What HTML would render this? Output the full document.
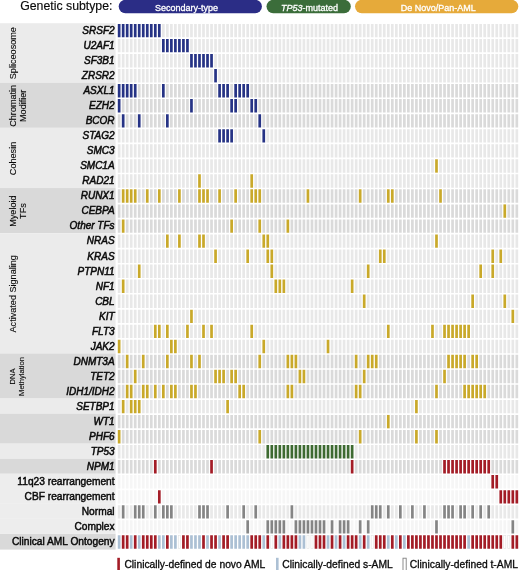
<!DOCTYPE html>
<html><head><meta charset="utf-8"><title>Genetic subtype oncoprint</title>
<style>
html,body{margin:0;padding:0;background:#ffffff;}
body{width:520px;height:570px;overflow:hidden;}
svg{display:block;will-change:transform;font-variant-ligatures:none;font-family:"Liberation Sans",sans-serif;fill:#1a1a1a;}
svg text{fill:#0a0a0a;}

svg text.pt{fill:#ffffff;font-size:9px;stroke:#ffffff;stroke-width:0.3px;}
svg text.lg{font-size:10.3px;stroke:#0a0a0a;stroke-width:0.3px;}
svg text.hd{stroke:#0a0a0a;stroke-width:0.15px;}
svg text.ct{stroke:#0a0a0a;stroke-width:0.12px;}
</style></head><body>
<svg width="520" height="570" viewBox="0 0 520 570">
<rect x="0" y="23.2" width="115.6" height="59.52" fill="#ebebeb"/>
<rect x="0" y="82.76" width="115.6" height="45.08" fill="#d9d9d9"/>
<rect x="0" y="127.88" width="115.6" height="60.12" fill="#ebebeb"/>
<rect x="0" y="188.04" width="115.6" height="45.08" fill="#d9d9d9"/>
<rect x="0" y="233.16" width="115.6" height="120.28" fill="#ebebeb"/>
<rect x="0" y="353.48" width="115.6" height="45.08" fill="#d9d9d9"/>
<rect x="0" y="398.6" width="115.6" height="15" fill="#ebebeb"/>
<rect x="0" y="413.64" width="115.6" height="30.04" fill="#d9d9d9"/>
<rect x="0" y="443.72" width="115.6" height="15" fill="#ebebeb"/>
<rect x="0" y="458.76" width="115.6" height="15" fill="#d9d9d9"/>
<rect x="0" y="473.8" width="115.6" height="30.04" fill="#ededed"/>
<rect x="0" y="503.88" width="115.6" height="15" fill="#ededed"/>
<rect x="0" y="518.92" width="115.6" height="15" fill="#ededed"/>
<rect x="0" y="533.96" width="115.6" height="15.64" fill="#d9d9d9"/>
<path fill="#e8e8e8" d="M161.99 23.9h2.7v13.4h-2.7zM166 23.9h2.7v13.4h-2.7zM170.02 23.9h2.7v13.4h-2.7zM174.04 23.9h2.7v13.4h-2.7zM178.06 23.9h2.7v13.4h-2.7zM182.07 23.9h2.7v13.4h-2.7zM186.09 23.9h2.7v13.4h-2.7zM190.11 23.9h2.7v13.4h-2.7zM194.12 23.9h2.7v13.4h-2.7zM198.14 23.9h2.7v13.4h-2.7zM202.16 23.9h2.7v13.4h-2.7zM206.17 23.9h2.7v13.4h-2.7zM210.19 23.9h2.7v13.4h-2.7zM214.21 23.9h2.7v13.4h-2.7zM218.23 23.9h2.7v13.4h-2.7zM222.24 23.9h2.7v13.4h-2.7zM226.26 23.9h2.7v13.4h-2.7zM230.28 23.9h2.7v13.4h-2.7zM234.29 23.9h2.7v13.4h-2.7zM238.31 23.9h2.7v13.4h-2.7zM242.33 23.9h2.7v13.4h-2.7zM246.34 23.9h2.7v13.4h-2.7zM250.36 23.9h2.7v13.4h-2.7zM254.38 23.9h2.7v13.4h-2.7zM258.39 23.9h2.7v13.4h-2.7zM262.41 23.9h2.7v13.4h-2.7zM266.43 23.9h2.7v13.4h-2.7zM270.45 23.9h2.7v13.4h-2.7zM274.46 23.9h2.7v13.4h-2.7zM278.48 23.9h2.7v13.4h-2.7zM282.5 23.9h2.7v13.4h-2.7zM286.51 23.9h2.7v13.4h-2.7zM290.53 23.9h2.7v13.4h-2.7zM294.55 23.9h2.7v13.4h-2.7zM298.56 23.9h2.7v13.4h-2.7zM302.58 23.9h2.7v13.4h-2.7zM306.6 23.9h2.7v13.4h-2.7zM310.62 23.9h2.7v13.4h-2.7zM314.63 23.9h2.7v13.4h-2.7zM318.65 23.9h2.7v13.4h-2.7zM322.67 23.9h2.7v13.4h-2.7zM326.68 23.9h2.7v13.4h-2.7zM330.7 23.9h2.7v13.4h-2.7zM334.72 23.9h2.7v13.4h-2.7zM338.74 23.9h2.7v13.4h-2.7zM342.75 23.9h2.7v13.4h-2.7zM346.77 23.9h2.7v13.4h-2.7zM350.79 23.9h2.7v13.4h-2.7zM354.8 23.9h2.7v13.4h-2.7zM358.82 23.9h2.7v13.4h-2.7zM362.84 23.9h2.7v13.4h-2.7zM366.85 23.9h2.7v13.4h-2.7zM370.87 23.9h2.7v13.4h-2.7zM374.89 23.9h2.7v13.4h-2.7zM378.91 23.9h2.7v13.4h-2.7zM382.92 23.9h2.7v13.4h-2.7zM386.94 23.9h2.7v13.4h-2.7zM390.96 23.9h2.7v13.4h-2.7zM394.97 23.9h2.7v13.4h-2.7zM398.99 23.9h2.7v13.4h-2.7zM403.01 23.9h2.7v13.4h-2.7zM407.02 23.9h2.7v13.4h-2.7zM411.04 23.9h2.7v13.4h-2.7zM415.06 23.9h2.7v13.4h-2.7zM419.08 23.9h2.7v13.4h-2.7zM423.09 23.9h2.7v13.4h-2.7zM427.11 23.9h2.7v13.4h-2.7zM431.13 23.9h2.7v13.4h-2.7zM435.14 23.9h2.7v13.4h-2.7zM439.16 23.9h2.7v13.4h-2.7zM443.18 23.9h2.7v13.4h-2.7zM447.19 23.9h2.7v13.4h-2.7zM451.21 23.9h2.7v13.4h-2.7zM455.23 23.9h2.7v13.4h-2.7zM459.25 23.9h2.7v13.4h-2.7zM463.26 23.9h2.7v13.4h-2.7zM467.28 23.9h2.7v13.4h-2.7zM471.3 23.9h2.7v13.4h-2.7zM475.31 23.9h2.7v13.4h-2.7zM479.33 23.9h2.7v13.4h-2.7zM483.35 23.9h2.7v13.4h-2.7zM487.36 23.9h2.7v13.4h-2.7zM491.38 23.9h2.7v13.4h-2.7zM495.4 23.9h2.7v13.4h-2.7zM499.42 23.9h2.7v13.4h-2.7zM503.43 23.9h2.7v13.4h-2.7zM507.45 23.9h2.7v13.4h-2.7zM511.47 23.9h2.7v13.4h-2.7zM515.48 23.9h2.7v13.4h-2.7z"/>
<path fill="#263385" d="M117.8 23.9h2.7v13.4h-2.7zM121.82 23.9h2.7v13.4h-2.7zM125.83 23.9h2.7v13.4h-2.7zM129.85 23.9h2.7v13.4h-2.7zM133.87 23.9h2.7v13.4h-2.7zM137.88 23.9h2.7v13.4h-2.7zM141.9 23.9h2.7v13.4h-2.7zM145.92 23.9h2.7v13.4h-2.7zM149.94 23.9h2.7v13.4h-2.7zM153.95 23.9h2.7v13.4h-2.7zM157.97 23.9h2.7v13.4h-2.7z"/>
<path fill="#e8e8e8" d="M117.8 38.94h2.7v13.4h-2.7zM121.82 38.94h2.7v13.4h-2.7zM125.83 38.94h2.7v13.4h-2.7zM129.85 38.94h2.7v13.4h-2.7zM133.87 38.94h2.7v13.4h-2.7zM137.88 38.94h2.7v13.4h-2.7zM141.9 38.94h2.7v13.4h-2.7zM145.92 38.94h2.7v13.4h-2.7zM149.94 38.94h2.7v13.4h-2.7zM153.95 38.94h2.7v13.4h-2.7zM157.97 38.94h2.7v13.4h-2.7zM190.11 38.94h2.7v13.4h-2.7zM194.12 38.94h2.7v13.4h-2.7zM198.14 38.94h2.7v13.4h-2.7zM202.16 38.94h2.7v13.4h-2.7zM206.17 38.94h2.7v13.4h-2.7zM210.19 38.94h2.7v13.4h-2.7zM214.21 38.94h2.7v13.4h-2.7zM218.23 38.94h2.7v13.4h-2.7zM222.24 38.94h2.7v13.4h-2.7zM226.26 38.94h2.7v13.4h-2.7zM230.28 38.94h2.7v13.4h-2.7zM234.29 38.94h2.7v13.4h-2.7zM238.31 38.94h2.7v13.4h-2.7zM242.33 38.94h2.7v13.4h-2.7zM246.34 38.94h2.7v13.4h-2.7zM250.36 38.94h2.7v13.4h-2.7zM254.38 38.94h2.7v13.4h-2.7zM258.39 38.94h2.7v13.4h-2.7zM262.41 38.94h2.7v13.4h-2.7zM266.43 38.94h2.7v13.4h-2.7zM270.45 38.94h2.7v13.4h-2.7zM274.46 38.94h2.7v13.4h-2.7zM278.48 38.94h2.7v13.4h-2.7zM282.5 38.94h2.7v13.4h-2.7zM286.51 38.94h2.7v13.4h-2.7zM290.53 38.94h2.7v13.4h-2.7zM294.55 38.94h2.7v13.4h-2.7zM298.56 38.94h2.7v13.4h-2.7zM302.58 38.94h2.7v13.4h-2.7zM306.6 38.94h2.7v13.4h-2.7zM310.62 38.94h2.7v13.4h-2.7zM314.63 38.94h2.7v13.4h-2.7zM318.65 38.94h2.7v13.4h-2.7zM322.67 38.94h2.7v13.4h-2.7zM326.68 38.94h2.7v13.4h-2.7zM330.7 38.94h2.7v13.4h-2.7zM334.72 38.94h2.7v13.4h-2.7zM338.74 38.94h2.7v13.4h-2.7zM342.75 38.94h2.7v13.4h-2.7zM346.77 38.94h2.7v13.4h-2.7zM350.79 38.94h2.7v13.4h-2.7zM354.8 38.94h2.7v13.4h-2.7zM358.82 38.94h2.7v13.4h-2.7zM362.84 38.94h2.7v13.4h-2.7zM366.85 38.94h2.7v13.4h-2.7zM370.87 38.94h2.7v13.4h-2.7zM374.89 38.94h2.7v13.4h-2.7zM378.91 38.94h2.7v13.4h-2.7zM382.92 38.94h2.7v13.4h-2.7zM386.94 38.94h2.7v13.4h-2.7zM390.96 38.94h2.7v13.4h-2.7zM394.97 38.94h2.7v13.4h-2.7zM398.99 38.94h2.7v13.4h-2.7zM403.01 38.94h2.7v13.4h-2.7zM407.02 38.94h2.7v13.4h-2.7zM411.04 38.94h2.7v13.4h-2.7zM415.06 38.94h2.7v13.4h-2.7zM419.08 38.94h2.7v13.4h-2.7zM423.09 38.94h2.7v13.4h-2.7zM427.11 38.94h2.7v13.4h-2.7zM431.13 38.94h2.7v13.4h-2.7zM435.14 38.94h2.7v13.4h-2.7zM439.16 38.94h2.7v13.4h-2.7zM443.18 38.94h2.7v13.4h-2.7zM447.19 38.94h2.7v13.4h-2.7zM451.21 38.94h2.7v13.4h-2.7zM455.23 38.94h2.7v13.4h-2.7zM459.25 38.94h2.7v13.4h-2.7zM463.26 38.94h2.7v13.4h-2.7zM467.28 38.94h2.7v13.4h-2.7zM471.3 38.94h2.7v13.4h-2.7zM475.31 38.94h2.7v13.4h-2.7zM479.33 38.94h2.7v13.4h-2.7zM483.35 38.94h2.7v13.4h-2.7zM487.36 38.94h2.7v13.4h-2.7zM491.38 38.94h2.7v13.4h-2.7zM495.4 38.94h2.7v13.4h-2.7zM499.42 38.94h2.7v13.4h-2.7zM503.43 38.94h2.7v13.4h-2.7zM507.45 38.94h2.7v13.4h-2.7zM511.47 38.94h2.7v13.4h-2.7zM515.48 38.94h2.7v13.4h-2.7z"/>
<path fill="#263385" d="M161.99 38.94h2.7v13.4h-2.7zM166 38.94h2.7v13.4h-2.7zM170.02 38.94h2.7v13.4h-2.7zM174.04 38.94h2.7v13.4h-2.7zM178.06 38.94h2.7v13.4h-2.7zM182.07 38.94h2.7v13.4h-2.7zM186.09 38.94h2.7v13.4h-2.7z"/>
<path fill="#e8e8e8" d="M117.8 53.98h2.7v13.4h-2.7zM121.82 53.98h2.7v13.4h-2.7zM125.83 53.98h2.7v13.4h-2.7zM129.85 53.98h2.7v13.4h-2.7zM133.87 53.98h2.7v13.4h-2.7zM137.88 53.98h2.7v13.4h-2.7zM141.9 53.98h2.7v13.4h-2.7zM145.92 53.98h2.7v13.4h-2.7zM149.94 53.98h2.7v13.4h-2.7zM153.95 53.98h2.7v13.4h-2.7zM157.97 53.98h2.7v13.4h-2.7zM161.99 53.98h2.7v13.4h-2.7zM166 53.98h2.7v13.4h-2.7zM170.02 53.98h2.7v13.4h-2.7zM174.04 53.98h2.7v13.4h-2.7zM178.06 53.98h2.7v13.4h-2.7zM182.07 53.98h2.7v13.4h-2.7zM186.09 53.98h2.7v13.4h-2.7zM214.21 53.98h2.7v13.4h-2.7zM218.23 53.98h2.7v13.4h-2.7zM222.24 53.98h2.7v13.4h-2.7zM226.26 53.98h2.7v13.4h-2.7zM230.28 53.98h2.7v13.4h-2.7zM234.29 53.98h2.7v13.4h-2.7zM238.31 53.98h2.7v13.4h-2.7zM242.33 53.98h2.7v13.4h-2.7zM246.34 53.98h2.7v13.4h-2.7zM250.36 53.98h2.7v13.4h-2.7zM254.38 53.98h2.7v13.4h-2.7zM258.39 53.98h2.7v13.4h-2.7zM262.41 53.98h2.7v13.4h-2.7zM266.43 53.98h2.7v13.4h-2.7zM270.45 53.98h2.7v13.4h-2.7zM274.46 53.98h2.7v13.4h-2.7zM278.48 53.98h2.7v13.4h-2.7zM282.5 53.98h2.7v13.4h-2.7zM286.51 53.98h2.7v13.4h-2.7zM290.53 53.98h2.7v13.4h-2.7zM294.55 53.98h2.7v13.4h-2.7zM298.56 53.98h2.7v13.4h-2.7zM302.58 53.98h2.7v13.4h-2.7zM306.6 53.98h2.7v13.4h-2.7zM310.62 53.98h2.7v13.4h-2.7zM314.63 53.98h2.7v13.4h-2.7zM318.65 53.98h2.7v13.4h-2.7zM322.67 53.98h2.7v13.4h-2.7zM326.68 53.98h2.7v13.4h-2.7zM330.7 53.98h2.7v13.4h-2.7zM334.72 53.98h2.7v13.4h-2.7zM338.74 53.98h2.7v13.4h-2.7zM342.75 53.98h2.7v13.4h-2.7zM346.77 53.98h2.7v13.4h-2.7zM350.79 53.98h2.7v13.4h-2.7zM354.8 53.98h2.7v13.4h-2.7zM358.82 53.98h2.7v13.4h-2.7zM362.84 53.98h2.7v13.4h-2.7zM366.85 53.98h2.7v13.4h-2.7zM370.87 53.98h2.7v13.4h-2.7zM374.89 53.98h2.7v13.4h-2.7zM378.91 53.98h2.7v13.4h-2.7zM382.92 53.98h2.7v13.4h-2.7zM386.94 53.98h2.7v13.4h-2.7zM390.96 53.98h2.7v13.4h-2.7zM394.97 53.98h2.7v13.4h-2.7zM398.99 53.98h2.7v13.4h-2.7zM403.01 53.98h2.7v13.4h-2.7zM407.02 53.98h2.7v13.4h-2.7zM411.04 53.98h2.7v13.4h-2.7zM415.06 53.98h2.7v13.4h-2.7zM419.08 53.98h2.7v13.4h-2.7zM423.09 53.98h2.7v13.4h-2.7zM427.11 53.98h2.7v13.4h-2.7zM431.13 53.98h2.7v13.4h-2.7zM435.14 53.98h2.7v13.4h-2.7zM439.16 53.98h2.7v13.4h-2.7zM443.18 53.98h2.7v13.4h-2.7zM447.19 53.98h2.7v13.4h-2.7zM451.21 53.98h2.7v13.4h-2.7zM455.23 53.98h2.7v13.4h-2.7zM459.25 53.98h2.7v13.4h-2.7zM463.26 53.98h2.7v13.4h-2.7zM467.28 53.98h2.7v13.4h-2.7zM471.3 53.98h2.7v13.4h-2.7zM475.31 53.98h2.7v13.4h-2.7zM479.33 53.98h2.7v13.4h-2.7zM483.35 53.98h2.7v13.4h-2.7zM487.36 53.98h2.7v13.4h-2.7zM491.38 53.98h2.7v13.4h-2.7zM495.4 53.98h2.7v13.4h-2.7zM499.42 53.98h2.7v13.4h-2.7zM503.43 53.98h2.7v13.4h-2.7zM507.45 53.98h2.7v13.4h-2.7zM511.47 53.98h2.7v13.4h-2.7zM515.48 53.98h2.7v13.4h-2.7z"/>
<path fill="#263385" d="M190.11 53.98h2.7v13.4h-2.7zM194.12 53.98h2.7v13.4h-2.7zM198.14 53.98h2.7v13.4h-2.7zM202.16 53.98h2.7v13.4h-2.7zM206.17 53.98h2.7v13.4h-2.7zM210.19 53.98h2.7v13.4h-2.7z"/>
<path fill="#e8e8e8" d="M117.8 69.02h2.7v13.4h-2.7zM121.82 69.02h2.7v13.4h-2.7zM125.83 69.02h2.7v13.4h-2.7zM129.85 69.02h2.7v13.4h-2.7zM133.87 69.02h2.7v13.4h-2.7zM137.88 69.02h2.7v13.4h-2.7zM141.9 69.02h2.7v13.4h-2.7zM145.92 69.02h2.7v13.4h-2.7zM149.94 69.02h2.7v13.4h-2.7zM153.95 69.02h2.7v13.4h-2.7zM157.97 69.02h2.7v13.4h-2.7zM161.99 69.02h2.7v13.4h-2.7zM166 69.02h2.7v13.4h-2.7zM170.02 69.02h2.7v13.4h-2.7zM174.04 69.02h2.7v13.4h-2.7zM178.06 69.02h2.7v13.4h-2.7zM182.07 69.02h2.7v13.4h-2.7zM186.09 69.02h2.7v13.4h-2.7zM190.11 69.02h2.7v13.4h-2.7zM194.12 69.02h2.7v13.4h-2.7zM198.14 69.02h2.7v13.4h-2.7zM202.16 69.02h2.7v13.4h-2.7zM206.17 69.02h2.7v13.4h-2.7zM210.19 69.02h2.7v13.4h-2.7zM218.23 69.02h2.7v13.4h-2.7zM222.24 69.02h2.7v13.4h-2.7zM226.26 69.02h2.7v13.4h-2.7zM230.28 69.02h2.7v13.4h-2.7zM234.29 69.02h2.7v13.4h-2.7zM238.31 69.02h2.7v13.4h-2.7zM242.33 69.02h2.7v13.4h-2.7zM246.34 69.02h2.7v13.4h-2.7zM250.36 69.02h2.7v13.4h-2.7zM254.38 69.02h2.7v13.4h-2.7zM258.39 69.02h2.7v13.4h-2.7zM262.41 69.02h2.7v13.4h-2.7zM266.43 69.02h2.7v13.4h-2.7zM270.45 69.02h2.7v13.4h-2.7zM274.46 69.02h2.7v13.4h-2.7zM278.48 69.02h2.7v13.4h-2.7zM282.5 69.02h2.7v13.4h-2.7zM286.51 69.02h2.7v13.4h-2.7zM290.53 69.02h2.7v13.4h-2.7zM294.55 69.02h2.7v13.4h-2.7zM298.56 69.02h2.7v13.4h-2.7zM302.58 69.02h2.7v13.4h-2.7zM306.6 69.02h2.7v13.4h-2.7zM310.62 69.02h2.7v13.4h-2.7zM314.63 69.02h2.7v13.4h-2.7zM318.65 69.02h2.7v13.4h-2.7zM322.67 69.02h2.7v13.4h-2.7zM326.68 69.02h2.7v13.4h-2.7zM330.7 69.02h2.7v13.4h-2.7zM334.72 69.02h2.7v13.4h-2.7zM338.74 69.02h2.7v13.4h-2.7zM342.75 69.02h2.7v13.4h-2.7zM346.77 69.02h2.7v13.4h-2.7zM350.79 69.02h2.7v13.4h-2.7zM354.8 69.02h2.7v13.4h-2.7zM358.82 69.02h2.7v13.4h-2.7zM362.84 69.02h2.7v13.4h-2.7zM366.85 69.02h2.7v13.4h-2.7zM370.87 69.02h2.7v13.4h-2.7zM374.89 69.02h2.7v13.4h-2.7zM378.91 69.02h2.7v13.4h-2.7zM382.92 69.02h2.7v13.4h-2.7zM386.94 69.02h2.7v13.4h-2.7zM390.96 69.02h2.7v13.4h-2.7zM394.97 69.02h2.7v13.4h-2.7zM398.99 69.02h2.7v13.4h-2.7zM403.01 69.02h2.7v13.4h-2.7zM407.02 69.02h2.7v13.4h-2.7zM411.04 69.02h2.7v13.4h-2.7zM415.06 69.02h2.7v13.4h-2.7zM419.08 69.02h2.7v13.4h-2.7zM423.09 69.02h2.7v13.4h-2.7zM427.11 69.02h2.7v13.4h-2.7zM431.13 69.02h2.7v13.4h-2.7zM435.14 69.02h2.7v13.4h-2.7zM439.16 69.02h2.7v13.4h-2.7zM443.18 69.02h2.7v13.4h-2.7zM447.19 69.02h2.7v13.4h-2.7zM451.21 69.02h2.7v13.4h-2.7zM455.23 69.02h2.7v13.4h-2.7zM459.25 69.02h2.7v13.4h-2.7zM463.26 69.02h2.7v13.4h-2.7zM467.28 69.02h2.7v13.4h-2.7zM471.3 69.02h2.7v13.4h-2.7zM475.31 69.02h2.7v13.4h-2.7zM479.33 69.02h2.7v13.4h-2.7zM483.35 69.02h2.7v13.4h-2.7zM487.36 69.02h2.7v13.4h-2.7zM491.38 69.02h2.7v13.4h-2.7zM495.4 69.02h2.7v13.4h-2.7zM499.42 69.02h2.7v13.4h-2.7zM503.43 69.02h2.7v13.4h-2.7zM507.45 69.02h2.7v13.4h-2.7zM511.47 69.02h2.7v13.4h-2.7zM515.48 69.02h2.7v13.4h-2.7z"/>
<path fill="#263385" d="M214.21 69.02h2.7v13.4h-2.7z"/>
<path fill="#dadada" d="M137.88 84.06h2.7v13.4h-2.7zM141.9 84.06h2.7v13.4h-2.7zM145.92 84.06h2.7v13.4h-2.7zM149.94 84.06h2.7v13.4h-2.7zM153.95 84.06h2.7v13.4h-2.7zM157.97 84.06h2.7v13.4h-2.7zM166 84.06h2.7v13.4h-2.7zM170.02 84.06h2.7v13.4h-2.7zM174.04 84.06h2.7v13.4h-2.7zM178.06 84.06h2.7v13.4h-2.7zM182.07 84.06h2.7v13.4h-2.7zM186.09 84.06h2.7v13.4h-2.7zM190.11 84.06h2.7v13.4h-2.7zM194.12 84.06h2.7v13.4h-2.7zM198.14 84.06h2.7v13.4h-2.7zM202.16 84.06h2.7v13.4h-2.7zM206.17 84.06h2.7v13.4h-2.7zM210.19 84.06h2.7v13.4h-2.7zM214.21 84.06h2.7v13.4h-2.7zM230.28 84.06h2.7v13.4h-2.7zM250.36 84.06h2.7v13.4h-2.7zM254.38 84.06h2.7v13.4h-2.7zM258.39 84.06h2.7v13.4h-2.7zM262.41 84.06h2.7v13.4h-2.7zM266.43 84.06h2.7v13.4h-2.7zM270.45 84.06h2.7v13.4h-2.7zM274.46 84.06h2.7v13.4h-2.7zM278.48 84.06h2.7v13.4h-2.7zM282.5 84.06h2.7v13.4h-2.7zM286.51 84.06h2.7v13.4h-2.7zM290.53 84.06h2.7v13.4h-2.7zM294.55 84.06h2.7v13.4h-2.7zM298.56 84.06h2.7v13.4h-2.7zM302.58 84.06h2.7v13.4h-2.7zM306.6 84.06h2.7v13.4h-2.7zM310.62 84.06h2.7v13.4h-2.7zM314.63 84.06h2.7v13.4h-2.7zM318.65 84.06h2.7v13.4h-2.7zM322.67 84.06h2.7v13.4h-2.7zM326.68 84.06h2.7v13.4h-2.7zM330.7 84.06h2.7v13.4h-2.7zM334.72 84.06h2.7v13.4h-2.7zM338.74 84.06h2.7v13.4h-2.7zM342.75 84.06h2.7v13.4h-2.7zM346.77 84.06h2.7v13.4h-2.7zM350.79 84.06h2.7v13.4h-2.7zM354.8 84.06h2.7v13.4h-2.7zM358.82 84.06h2.7v13.4h-2.7zM362.84 84.06h2.7v13.4h-2.7zM366.85 84.06h2.7v13.4h-2.7zM370.87 84.06h2.7v13.4h-2.7zM374.89 84.06h2.7v13.4h-2.7zM378.91 84.06h2.7v13.4h-2.7zM382.92 84.06h2.7v13.4h-2.7zM386.94 84.06h2.7v13.4h-2.7zM390.96 84.06h2.7v13.4h-2.7zM394.97 84.06h2.7v13.4h-2.7zM398.99 84.06h2.7v13.4h-2.7zM403.01 84.06h2.7v13.4h-2.7zM407.02 84.06h2.7v13.4h-2.7zM411.04 84.06h2.7v13.4h-2.7zM415.06 84.06h2.7v13.4h-2.7zM419.08 84.06h2.7v13.4h-2.7zM423.09 84.06h2.7v13.4h-2.7zM427.11 84.06h2.7v13.4h-2.7zM431.13 84.06h2.7v13.4h-2.7zM435.14 84.06h2.7v13.4h-2.7zM439.16 84.06h2.7v13.4h-2.7zM443.18 84.06h2.7v13.4h-2.7zM447.19 84.06h2.7v13.4h-2.7zM451.21 84.06h2.7v13.4h-2.7zM455.23 84.06h2.7v13.4h-2.7zM459.25 84.06h2.7v13.4h-2.7zM463.26 84.06h2.7v13.4h-2.7zM467.28 84.06h2.7v13.4h-2.7zM471.3 84.06h2.7v13.4h-2.7zM475.31 84.06h2.7v13.4h-2.7zM479.33 84.06h2.7v13.4h-2.7zM483.35 84.06h2.7v13.4h-2.7zM487.36 84.06h2.7v13.4h-2.7zM491.38 84.06h2.7v13.4h-2.7zM495.4 84.06h2.7v13.4h-2.7zM499.42 84.06h2.7v13.4h-2.7zM503.43 84.06h2.7v13.4h-2.7zM507.45 84.06h2.7v13.4h-2.7zM511.47 84.06h2.7v13.4h-2.7zM515.48 84.06h2.7v13.4h-2.7z"/>
<path fill="#263385" d="M117.8 84.06h2.7v13.4h-2.7zM121.82 84.06h2.7v13.4h-2.7zM125.83 84.06h2.7v13.4h-2.7zM129.85 84.06h2.7v13.4h-2.7zM133.87 84.06h2.7v13.4h-2.7zM161.99 84.06h2.7v13.4h-2.7zM218.23 84.06h2.7v13.4h-2.7zM222.24 84.06h2.7v13.4h-2.7zM226.26 84.06h2.7v13.4h-2.7zM234.29 84.06h2.7v13.4h-2.7zM238.31 84.06h2.7v13.4h-2.7zM242.33 84.06h2.7v13.4h-2.7zM246.34 84.06h2.7v13.4h-2.7z"/>
<path fill="#dadada" d="M121.82 99.1h2.7v13.4h-2.7zM125.83 99.1h2.7v13.4h-2.7zM129.85 99.1h2.7v13.4h-2.7zM133.87 99.1h2.7v13.4h-2.7zM137.88 99.1h2.7v13.4h-2.7zM141.9 99.1h2.7v13.4h-2.7zM145.92 99.1h2.7v13.4h-2.7zM149.94 99.1h2.7v13.4h-2.7zM153.95 99.1h2.7v13.4h-2.7zM157.97 99.1h2.7v13.4h-2.7zM161.99 99.1h2.7v13.4h-2.7zM166 99.1h2.7v13.4h-2.7zM170.02 99.1h2.7v13.4h-2.7zM174.04 99.1h2.7v13.4h-2.7zM178.06 99.1h2.7v13.4h-2.7zM182.07 99.1h2.7v13.4h-2.7zM186.09 99.1h2.7v13.4h-2.7zM194.12 99.1h2.7v13.4h-2.7zM198.14 99.1h2.7v13.4h-2.7zM202.16 99.1h2.7v13.4h-2.7zM206.17 99.1h2.7v13.4h-2.7zM210.19 99.1h2.7v13.4h-2.7zM214.21 99.1h2.7v13.4h-2.7zM218.23 99.1h2.7v13.4h-2.7zM222.24 99.1h2.7v13.4h-2.7zM226.26 99.1h2.7v13.4h-2.7zM238.31 99.1h2.7v13.4h-2.7zM242.33 99.1h2.7v13.4h-2.7zM246.34 99.1h2.7v13.4h-2.7zM258.39 99.1h2.7v13.4h-2.7zM262.41 99.1h2.7v13.4h-2.7zM266.43 99.1h2.7v13.4h-2.7zM270.45 99.1h2.7v13.4h-2.7zM274.46 99.1h2.7v13.4h-2.7zM278.48 99.1h2.7v13.4h-2.7zM282.5 99.1h2.7v13.4h-2.7zM286.51 99.1h2.7v13.4h-2.7zM290.53 99.1h2.7v13.4h-2.7zM294.55 99.1h2.7v13.4h-2.7zM298.56 99.1h2.7v13.4h-2.7zM302.58 99.1h2.7v13.4h-2.7zM306.6 99.1h2.7v13.4h-2.7zM310.62 99.1h2.7v13.4h-2.7zM314.63 99.1h2.7v13.4h-2.7zM318.65 99.1h2.7v13.4h-2.7zM322.67 99.1h2.7v13.4h-2.7zM326.68 99.1h2.7v13.4h-2.7zM330.7 99.1h2.7v13.4h-2.7zM334.72 99.1h2.7v13.4h-2.7zM338.74 99.1h2.7v13.4h-2.7zM342.75 99.1h2.7v13.4h-2.7zM346.77 99.1h2.7v13.4h-2.7zM350.79 99.1h2.7v13.4h-2.7zM354.8 99.1h2.7v13.4h-2.7zM358.82 99.1h2.7v13.4h-2.7zM362.84 99.1h2.7v13.4h-2.7zM366.85 99.1h2.7v13.4h-2.7zM370.87 99.1h2.7v13.4h-2.7zM374.89 99.1h2.7v13.4h-2.7zM378.91 99.1h2.7v13.4h-2.7zM382.92 99.1h2.7v13.4h-2.7zM386.94 99.1h2.7v13.4h-2.7zM390.96 99.1h2.7v13.4h-2.7zM394.97 99.1h2.7v13.4h-2.7zM398.99 99.1h2.7v13.4h-2.7zM403.01 99.1h2.7v13.4h-2.7zM407.02 99.1h2.7v13.4h-2.7zM411.04 99.1h2.7v13.4h-2.7zM415.06 99.1h2.7v13.4h-2.7zM419.08 99.1h2.7v13.4h-2.7zM423.09 99.1h2.7v13.4h-2.7zM427.11 99.1h2.7v13.4h-2.7zM431.13 99.1h2.7v13.4h-2.7zM435.14 99.1h2.7v13.4h-2.7zM439.16 99.1h2.7v13.4h-2.7zM443.18 99.1h2.7v13.4h-2.7zM447.19 99.1h2.7v13.4h-2.7zM451.21 99.1h2.7v13.4h-2.7zM455.23 99.1h2.7v13.4h-2.7zM459.25 99.1h2.7v13.4h-2.7zM463.26 99.1h2.7v13.4h-2.7zM467.28 99.1h2.7v13.4h-2.7zM471.3 99.1h2.7v13.4h-2.7zM475.31 99.1h2.7v13.4h-2.7zM479.33 99.1h2.7v13.4h-2.7zM483.35 99.1h2.7v13.4h-2.7zM487.36 99.1h2.7v13.4h-2.7zM491.38 99.1h2.7v13.4h-2.7zM495.4 99.1h2.7v13.4h-2.7zM499.42 99.1h2.7v13.4h-2.7zM503.43 99.1h2.7v13.4h-2.7zM507.45 99.1h2.7v13.4h-2.7zM511.47 99.1h2.7v13.4h-2.7zM515.48 99.1h2.7v13.4h-2.7z"/>
<path fill="#263385" d="M117.8 99.1h2.7v13.4h-2.7zM190.11 99.1h2.7v13.4h-2.7zM230.28 99.1h2.7v13.4h-2.7zM234.29 99.1h2.7v13.4h-2.7zM250.36 99.1h2.7v13.4h-2.7zM254.38 99.1h2.7v13.4h-2.7z"/>
<path fill="#dadada" d="M117.8 114.14h2.7v13.4h-2.7zM125.83 114.14h2.7v13.4h-2.7zM129.85 114.14h2.7v13.4h-2.7zM133.87 114.14h2.7v13.4h-2.7zM141.9 114.14h2.7v13.4h-2.7zM145.92 114.14h2.7v13.4h-2.7zM149.94 114.14h2.7v13.4h-2.7zM153.95 114.14h2.7v13.4h-2.7zM157.97 114.14h2.7v13.4h-2.7zM161.99 114.14h2.7v13.4h-2.7zM170.02 114.14h2.7v13.4h-2.7zM174.04 114.14h2.7v13.4h-2.7zM178.06 114.14h2.7v13.4h-2.7zM182.07 114.14h2.7v13.4h-2.7zM186.09 114.14h2.7v13.4h-2.7zM190.11 114.14h2.7v13.4h-2.7zM194.12 114.14h2.7v13.4h-2.7zM198.14 114.14h2.7v13.4h-2.7zM202.16 114.14h2.7v13.4h-2.7zM206.17 114.14h2.7v13.4h-2.7zM210.19 114.14h2.7v13.4h-2.7zM214.21 114.14h2.7v13.4h-2.7zM218.23 114.14h2.7v13.4h-2.7zM222.24 114.14h2.7v13.4h-2.7zM226.26 114.14h2.7v13.4h-2.7zM230.28 114.14h2.7v13.4h-2.7zM234.29 114.14h2.7v13.4h-2.7zM238.31 114.14h2.7v13.4h-2.7zM242.33 114.14h2.7v13.4h-2.7zM246.34 114.14h2.7v13.4h-2.7zM250.36 114.14h2.7v13.4h-2.7zM254.38 114.14h2.7v13.4h-2.7zM262.41 114.14h2.7v13.4h-2.7zM266.43 114.14h2.7v13.4h-2.7zM270.45 114.14h2.7v13.4h-2.7zM274.46 114.14h2.7v13.4h-2.7zM278.48 114.14h2.7v13.4h-2.7zM282.5 114.14h2.7v13.4h-2.7zM286.51 114.14h2.7v13.4h-2.7zM290.53 114.14h2.7v13.4h-2.7zM294.55 114.14h2.7v13.4h-2.7zM298.56 114.14h2.7v13.4h-2.7zM302.58 114.14h2.7v13.4h-2.7zM306.6 114.14h2.7v13.4h-2.7zM310.62 114.14h2.7v13.4h-2.7zM314.63 114.14h2.7v13.4h-2.7zM318.65 114.14h2.7v13.4h-2.7zM322.67 114.14h2.7v13.4h-2.7zM326.68 114.14h2.7v13.4h-2.7zM330.7 114.14h2.7v13.4h-2.7zM334.72 114.14h2.7v13.4h-2.7zM338.74 114.14h2.7v13.4h-2.7zM342.75 114.14h2.7v13.4h-2.7zM346.77 114.14h2.7v13.4h-2.7zM350.79 114.14h2.7v13.4h-2.7zM354.8 114.14h2.7v13.4h-2.7zM358.82 114.14h2.7v13.4h-2.7zM362.84 114.14h2.7v13.4h-2.7zM366.85 114.14h2.7v13.4h-2.7zM370.87 114.14h2.7v13.4h-2.7zM374.89 114.14h2.7v13.4h-2.7zM378.91 114.14h2.7v13.4h-2.7zM382.92 114.14h2.7v13.4h-2.7zM386.94 114.14h2.7v13.4h-2.7zM390.96 114.14h2.7v13.4h-2.7zM394.97 114.14h2.7v13.4h-2.7zM398.99 114.14h2.7v13.4h-2.7zM403.01 114.14h2.7v13.4h-2.7zM407.02 114.14h2.7v13.4h-2.7zM411.04 114.14h2.7v13.4h-2.7zM415.06 114.14h2.7v13.4h-2.7zM419.08 114.14h2.7v13.4h-2.7zM423.09 114.14h2.7v13.4h-2.7zM427.11 114.14h2.7v13.4h-2.7zM431.13 114.14h2.7v13.4h-2.7zM435.14 114.14h2.7v13.4h-2.7zM439.16 114.14h2.7v13.4h-2.7zM443.18 114.14h2.7v13.4h-2.7zM447.19 114.14h2.7v13.4h-2.7zM451.21 114.14h2.7v13.4h-2.7zM455.23 114.14h2.7v13.4h-2.7zM459.25 114.14h2.7v13.4h-2.7zM463.26 114.14h2.7v13.4h-2.7zM467.28 114.14h2.7v13.4h-2.7zM471.3 114.14h2.7v13.4h-2.7zM475.31 114.14h2.7v13.4h-2.7zM479.33 114.14h2.7v13.4h-2.7zM483.35 114.14h2.7v13.4h-2.7zM487.36 114.14h2.7v13.4h-2.7zM491.38 114.14h2.7v13.4h-2.7zM495.4 114.14h2.7v13.4h-2.7zM499.42 114.14h2.7v13.4h-2.7zM503.43 114.14h2.7v13.4h-2.7zM507.45 114.14h2.7v13.4h-2.7zM511.47 114.14h2.7v13.4h-2.7zM515.48 114.14h2.7v13.4h-2.7z"/>
<path fill="#263385" d="M121.82 114.14h2.7v13.4h-2.7zM137.88 114.14h2.7v13.4h-2.7zM166 114.14h2.7v13.4h-2.7zM258.39 114.14h2.7v13.4h-2.7z"/>
<path fill="#e8e8e8" d="M117.8 129.18h2.7v13.4h-2.7zM121.82 129.18h2.7v13.4h-2.7zM125.83 129.18h2.7v13.4h-2.7zM129.85 129.18h2.7v13.4h-2.7zM133.87 129.18h2.7v13.4h-2.7zM137.88 129.18h2.7v13.4h-2.7zM141.9 129.18h2.7v13.4h-2.7zM145.92 129.18h2.7v13.4h-2.7zM149.94 129.18h2.7v13.4h-2.7zM153.95 129.18h2.7v13.4h-2.7zM157.97 129.18h2.7v13.4h-2.7zM161.99 129.18h2.7v13.4h-2.7zM166 129.18h2.7v13.4h-2.7zM170.02 129.18h2.7v13.4h-2.7zM174.04 129.18h2.7v13.4h-2.7zM178.06 129.18h2.7v13.4h-2.7zM182.07 129.18h2.7v13.4h-2.7zM186.09 129.18h2.7v13.4h-2.7zM190.11 129.18h2.7v13.4h-2.7zM194.12 129.18h2.7v13.4h-2.7zM198.14 129.18h2.7v13.4h-2.7zM202.16 129.18h2.7v13.4h-2.7zM206.17 129.18h2.7v13.4h-2.7zM210.19 129.18h2.7v13.4h-2.7zM214.21 129.18h2.7v13.4h-2.7zM234.29 129.18h2.7v13.4h-2.7zM238.31 129.18h2.7v13.4h-2.7zM242.33 129.18h2.7v13.4h-2.7zM246.34 129.18h2.7v13.4h-2.7zM250.36 129.18h2.7v13.4h-2.7zM254.38 129.18h2.7v13.4h-2.7zM258.39 129.18h2.7v13.4h-2.7zM266.43 129.18h2.7v13.4h-2.7zM270.45 129.18h2.7v13.4h-2.7zM274.46 129.18h2.7v13.4h-2.7zM278.48 129.18h2.7v13.4h-2.7zM282.5 129.18h2.7v13.4h-2.7zM286.51 129.18h2.7v13.4h-2.7zM290.53 129.18h2.7v13.4h-2.7zM294.55 129.18h2.7v13.4h-2.7zM298.56 129.18h2.7v13.4h-2.7zM302.58 129.18h2.7v13.4h-2.7zM306.6 129.18h2.7v13.4h-2.7zM310.62 129.18h2.7v13.4h-2.7zM314.63 129.18h2.7v13.4h-2.7zM318.65 129.18h2.7v13.4h-2.7zM322.67 129.18h2.7v13.4h-2.7zM326.68 129.18h2.7v13.4h-2.7zM330.7 129.18h2.7v13.4h-2.7zM334.72 129.18h2.7v13.4h-2.7zM338.74 129.18h2.7v13.4h-2.7zM342.75 129.18h2.7v13.4h-2.7zM346.77 129.18h2.7v13.4h-2.7zM350.79 129.18h2.7v13.4h-2.7zM354.8 129.18h2.7v13.4h-2.7zM358.82 129.18h2.7v13.4h-2.7zM362.84 129.18h2.7v13.4h-2.7zM366.85 129.18h2.7v13.4h-2.7zM370.87 129.18h2.7v13.4h-2.7zM374.89 129.18h2.7v13.4h-2.7zM378.91 129.18h2.7v13.4h-2.7zM382.92 129.18h2.7v13.4h-2.7zM386.94 129.18h2.7v13.4h-2.7zM390.96 129.18h2.7v13.4h-2.7zM394.97 129.18h2.7v13.4h-2.7zM398.99 129.18h2.7v13.4h-2.7zM403.01 129.18h2.7v13.4h-2.7zM407.02 129.18h2.7v13.4h-2.7zM411.04 129.18h2.7v13.4h-2.7zM415.06 129.18h2.7v13.4h-2.7zM419.08 129.18h2.7v13.4h-2.7zM423.09 129.18h2.7v13.4h-2.7zM427.11 129.18h2.7v13.4h-2.7zM431.13 129.18h2.7v13.4h-2.7zM435.14 129.18h2.7v13.4h-2.7zM439.16 129.18h2.7v13.4h-2.7zM443.18 129.18h2.7v13.4h-2.7zM447.19 129.18h2.7v13.4h-2.7zM451.21 129.18h2.7v13.4h-2.7zM455.23 129.18h2.7v13.4h-2.7zM459.25 129.18h2.7v13.4h-2.7zM463.26 129.18h2.7v13.4h-2.7zM467.28 129.18h2.7v13.4h-2.7zM471.3 129.18h2.7v13.4h-2.7zM475.31 129.18h2.7v13.4h-2.7zM479.33 129.18h2.7v13.4h-2.7zM483.35 129.18h2.7v13.4h-2.7zM487.36 129.18h2.7v13.4h-2.7zM491.38 129.18h2.7v13.4h-2.7zM495.4 129.18h2.7v13.4h-2.7zM499.42 129.18h2.7v13.4h-2.7zM503.43 129.18h2.7v13.4h-2.7zM507.45 129.18h2.7v13.4h-2.7zM511.47 129.18h2.7v13.4h-2.7zM515.48 129.18h2.7v13.4h-2.7z"/>
<path fill="#263385" d="M218.23 129.18h2.7v13.4h-2.7zM222.24 129.18h2.7v13.4h-2.7zM226.26 129.18h2.7v13.4h-2.7zM230.28 129.18h2.7v13.4h-2.7zM262.41 129.18h2.7v13.4h-2.7z"/>
<path fill="#e8e8e8" d="M117.8 144.22h2.7v13.4h-2.7zM121.82 144.22h2.7v13.4h-2.7zM125.83 144.22h2.7v13.4h-2.7zM129.85 144.22h2.7v13.4h-2.7zM133.87 144.22h2.7v13.4h-2.7zM137.88 144.22h2.7v13.4h-2.7zM141.9 144.22h2.7v13.4h-2.7zM145.92 144.22h2.7v13.4h-2.7zM149.94 144.22h2.7v13.4h-2.7zM153.95 144.22h2.7v13.4h-2.7zM157.97 144.22h2.7v13.4h-2.7zM161.99 144.22h2.7v13.4h-2.7zM166 144.22h2.7v13.4h-2.7zM170.02 144.22h2.7v13.4h-2.7zM174.04 144.22h2.7v13.4h-2.7zM178.06 144.22h2.7v13.4h-2.7zM182.07 144.22h2.7v13.4h-2.7zM186.09 144.22h2.7v13.4h-2.7zM190.11 144.22h2.7v13.4h-2.7zM194.12 144.22h2.7v13.4h-2.7zM198.14 144.22h2.7v13.4h-2.7zM202.16 144.22h2.7v13.4h-2.7zM206.17 144.22h2.7v13.4h-2.7zM210.19 144.22h2.7v13.4h-2.7zM214.21 144.22h2.7v13.4h-2.7zM218.23 144.22h2.7v13.4h-2.7zM222.24 144.22h2.7v13.4h-2.7zM226.26 144.22h2.7v13.4h-2.7zM230.28 144.22h2.7v13.4h-2.7zM234.29 144.22h2.7v13.4h-2.7zM238.31 144.22h2.7v13.4h-2.7zM242.33 144.22h2.7v13.4h-2.7zM246.34 144.22h2.7v13.4h-2.7zM250.36 144.22h2.7v13.4h-2.7zM254.38 144.22h2.7v13.4h-2.7zM258.39 144.22h2.7v13.4h-2.7zM262.41 144.22h2.7v13.4h-2.7zM266.43 144.22h2.7v13.4h-2.7zM270.45 144.22h2.7v13.4h-2.7zM274.46 144.22h2.7v13.4h-2.7zM278.48 144.22h2.7v13.4h-2.7zM282.5 144.22h2.7v13.4h-2.7zM286.51 144.22h2.7v13.4h-2.7zM290.53 144.22h2.7v13.4h-2.7zM294.55 144.22h2.7v13.4h-2.7zM298.56 144.22h2.7v13.4h-2.7zM302.58 144.22h2.7v13.4h-2.7zM306.6 144.22h2.7v13.4h-2.7zM310.62 144.22h2.7v13.4h-2.7zM314.63 144.22h2.7v13.4h-2.7zM318.65 144.22h2.7v13.4h-2.7zM322.67 144.22h2.7v13.4h-2.7zM326.68 144.22h2.7v13.4h-2.7zM330.7 144.22h2.7v13.4h-2.7zM334.72 144.22h2.7v13.4h-2.7zM338.74 144.22h2.7v13.4h-2.7zM342.75 144.22h2.7v13.4h-2.7zM346.77 144.22h2.7v13.4h-2.7zM350.79 144.22h2.7v13.4h-2.7zM354.8 144.22h2.7v13.4h-2.7zM358.82 144.22h2.7v13.4h-2.7zM362.84 144.22h2.7v13.4h-2.7zM366.85 144.22h2.7v13.4h-2.7zM370.87 144.22h2.7v13.4h-2.7zM374.89 144.22h2.7v13.4h-2.7zM378.91 144.22h2.7v13.4h-2.7zM382.92 144.22h2.7v13.4h-2.7zM386.94 144.22h2.7v13.4h-2.7zM390.96 144.22h2.7v13.4h-2.7zM394.97 144.22h2.7v13.4h-2.7zM398.99 144.22h2.7v13.4h-2.7zM403.01 144.22h2.7v13.4h-2.7zM407.02 144.22h2.7v13.4h-2.7zM411.04 144.22h2.7v13.4h-2.7zM415.06 144.22h2.7v13.4h-2.7zM419.08 144.22h2.7v13.4h-2.7zM423.09 144.22h2.7v13.4h-2.7zM427.11 144.22h2.7v13.4h-2.7zM431.13 144.22h2.7v13.4h-2.7zM435.14 144.22h2.7v13.4h-2.7zM439.16 144.22h2.7v13.4h-2.7zM443.18 144.22h2.7v13.4h-2.7zM447.19 144.22h2.7v13.4h-2.7zM451.21 144.22h2.7v13.4h-2.7zM455.23 144.22h2.7v13.4h-2.7zM459.25 144.22h2.7v13.4h-2.7zM463.26 144.22h2.7v13.4h-2.7zM467.28 144.22h2.7v13.4h-2.7zM471.3 144.22h2.7v13.4h-2.7zM475.31 144.22h2.7v13.4h-2.7zM479.33 144.22h2.7v13.4h-2.7zM483.35 144.22h2.7v13.4h-2.7zM487.36 144.22h2.7v13.4h-2.7zM491.38 144.22h2.7v13.4h-2.7zM495.4 144.22h2.7v13.4h-2.7zM499.42 144.22h2.7v13.4h-2.7zM503.43 144.22h2.7v13.4h-2.7zM507.45 144.22h2.7v13.4h-2.7zM511.47 144.22h2.7v13.4h-2.7zM515.48 144.22h2.7v13.4h-2.7z"/>
<path fill="#e8e8e8" d="M117.8 159.26h2.7v13.4h-2.7zM121.82 159.26h2.7v13.4h-2.7zM125.83 159.26h2.7v13.4h-2.7zM129.85 159.26h2.7v13.4h-2.7zM133.87 159.26h2.7v13.4h-2.7zM137.88 159.26h2.7v13.4h-2.7zM141.9 159.26h2.7v13.4h-2.7zM145.92 159.26h2.7v13.4h-2.7zM149.94 159.26h2.7v13.4h-2.7zM153.95 159.26h2.7v13.4h-2.7zM157.97 159.26h2.7v13.4h-2.7zM161.99 159.26h2.7v13.4h-2.7zM166 159.26h2.7v13.4h-2.7zM170.02 159.26h2.7v13.4h-2.7zM174.04 159.26h2.7v13.4h-2.7zM178.06 159.26h2.7v13.4h-2.7zM182.07 159.26h2.7v13.4h-2.7zM186.09 159.26h2.7v13.4h-2.7zM190.11 159.26h2.7v13.4h-2.7zM194.12 159.26h2.7v13.4h-2.7zM198.14 159.26h2.7v13.4h-2.7zM202.16 159.26h2.7v13.4h-2.7zM206.17 159.26h2.7v13.4h-2.7zM210.19 159.26h2.7v13.4h-2.7zM214.21 159.26h2.7v13.4h-2.7zM218.23 159.26h2.7v13.4h-2.7zM222.24 159.26h2.7v13.4h-2.7zM226.26 159.26h2.7v13.4h-2.7zM230.28 159.26h2.7v13.4h-2.7zM234.29 159.26h2.7v13.4h-2.7zM238.31 159.26h2.7v13.4h-2.7zM242.33 159.26h2.7v13.4h-2.7zM246.34 159.26h2.7v13.4h-2.7zM250.36 159.26h2.7v13.4h-2.7zM254.38 159.26h2.7v13.4h-2.7zM258.39 159.26h2.7v13.4h-2.7zM262.41 159.26h2.7v13.4h-2.7zM266.43 159.26h2.7v13.4h-2.7zM270.45 159.26h2.7v13.4h-2.7zM274.46 159.26h2.7v13.4h-2.7zM278.48 159.26h2.7v13.4h-2.7zM282.5 159.26h2.7v13.4h-2.7zM286.51 159.26h2.7v13.4h-2.7zM290.53 159.26h2.7v13.4h-2.7zM294.55 159.26h2.7v13.4h-2.7zM298.56 159.26h2.7v13.4h-2.7zM302.58 159.26h2.7v13.4h-2.7zM306.6 159.26h2.7v13.4h-2.7zM310.62 159.26h2.7v13.4h-2.7zM314.63 159.26h2.7v13.4h-2.7zM318.65 159.26h2.7v13.4h-2.7zM322.67 159.26h2.7v13.4h-2.7zM326.68 159.26h2.7v13.4h-2.7zM330.7 159.26h2.7v13.4h-2.7zM334.72 159.26h2.7v13.4h-2.7zM338.74 159.26h2.7v13.4h-2.7zM342.75 159.26h2.7v13.4h-2.7zM346.77 159.26h2.7v13.4h-2.7zM350.79 159.26h2.7v13.4h-2.7zM354.8 159.26h2.7v13.4h-2.7zM358.82 159.26h2.7v13.4h-2.7zM362.84 159.26h2.7v13.4h-2.7zM366.85 159.26h2.7v13.4h-2.7zM370.87 159.26h2.7v13.4h-2.7zM374.89 159.26h2.7v13.4h-2.7zM378.91 159.26h2.7v13.4h-2.7zM382.92 159.26h2.7v13.4h-2.7zM386.94 159.26h2.7v13.4h-2.7zM390.96 159.26h2.7v13.4h-2.7zM394.97 159.26h2.7v13.4h-2.7zM398.99 159.26h2.7v13.4h-2.7zM403.01 159.26h2.7v13.4h-2.7zM407.02 159.26h2.7v13.4h-2.7zM411.04 159.26h2.7v13.4h-2.7zM415.06 159.26h2.7v13.4h-2.7zM419.08 159.26h2.7v13.4h-2.7zM423.09 159.26h2.7v13.4h-2.7zM427.11 159.26h2.7v13.4h-2.7zM431.13 159.26h2.7v13.4h-2.7zM439.16 159.26h2.7v13.4h-2.7zM443.18 159.26h2.7v13.4h-2.7zM447.19 159.26h2.7v13.4h-2.7zM451.21 159.26h2.7v13.4h-2.7zM455.23 159.26h2.7v13.4h-2.7zM459.25 159.26h2.7v13.4h-2.7zM463.26 159.26h2.7v13.4h-2.7zM467.28 159.26h2.7v13.4h-2.7zM471.3 159.26h2.7v13.4h-2.7zM475.31 159.26h2.7v13.4h-2.7zM479.33 159.26h2.7v13.4h-2.7zM483.35 159.26h2.7v13.4h-2.7zM487.36 159.26h2.7v13.4h-2.7zM491.38 159.26h2.7v13.4h-2.7zM495.4 159.26h2.7v13.4h-2.7zM499.42 159.26h2.7v13.4h-2.7zM503.43 159.26h2.7v13.4h-2.7zM507.45 159.26h2.7v13.4h-2.7zM511.47 159.26h2.7v13.4h-2.7zM515.48 159.26h2.7v13.4h-2.7z"/>
<path fill="#c9a92a" d="M435.14 159.26h2.7v13.4h-2.7z"/>
<path fill="#e8e8e8" d="M117.8 174.3h2.7v13.4h-2.7zM121.82 174.3h2.7v13.4h-2.7zM125.83 174.3h2.7v13.4h-2.7zM129.85 174.3h2.7v13.4h-2.7zM133.87 174.3h2.7v13.4h-2.7zM137.88 174.3h2.7v13.4h-2.7zM141.9 174.3h2.7v13.4h-2.7zM145.92 174.3h2.7v13.4h-2.7zM149.94 174.3h2.7v13.4h-2.7zM153.95 174.3h2.7v13.4h-2.7zM157.97 174.3h2.7v13.4h-2.7zM161.99 174.3h2.7v13.4h-2.7zM166 174.3h2.7v13.4h-2.7zM170.02 174.3h2.7v13.4h-2.7zM174.04 174.3h2.7v13.4h-2.7zM178.06 174.3h2.7v13.4h-2.7zM182.07 174.3h2.7v13.4h-2.7zM186.09 174.3h2.7v13.4h-2.7zM190.11 174.3h2.7v13.4h-2.7zM194.12 174.3h2.7v13.4h-2.7zM202.16 174.3h2.7v13.4h-2.7zM206.17 174.3h2.7v13.4h-2.7zM210.19 174.3h2.7v13.4h-2.7zM214.21 174.3h2.7v13.4h-2.7zM218.23 174.3h2.7v13.4h-2.7zM222.24 174.3h2.7v13.4h-2.7zM226.26 174.3h2.7v13.4h-2.7zM230.28 174.3h2.7v13.4h-2.7zM234.29 174.3h2.7v13.4h-2.7zM238.31 174.3h2.7v13.4h-2.7zM242.33 174.3h2.7v13.4h-2.7zM246.34 174.3h2.7v13.4h-2.7zM254.38 174.3h2.7v13.4h-2.7zM258.39 174.3h2.7v13.4h-2.7zM262.41 174.3h2.7v13.4h-2.7zM266.43 174.3h2.7v13.4h-2.7zM270.45 174.3h2.7v13.4h-2.7zM274.46 174.3h2.7v13.4h-2.7zM278.48 174.3h2.7v13.4h-2.7zM282.5 174.3h2.7v13.4h-2.7zM286.51 174.3h2.7v13.4h-2.7zM290.53 174.3h2.7v13.4h-2.7zM294.55 174.3h2.7v13.4h-2.7zM298.56 174.3h2.7v13.4h-2.7zM302.58 174.3h2.7v13.4h-2.7zM306.6 174.3h2.7v13.4h-2.7zM310.62 174.3h2.7v13.4h-2.7zM314.63 174.3h2.7v13.4h-2.7zM318.65 174.3h2.7v13.4h-2.7zM322.67 174.3h2.7v13.4h-2.7zM326.68 174.3h2.7v13.4h-2.7zM330.7 174.3h2.7v13.4h-2.7zM334.72 174.3h2.7v13.4h-2.7zM338.74 174.3h2.7v13.4h-2.7zM342.75 174.3h2.7v13.4h-2.7zM346.77 174.3h2.7v13.4h-2.7zM350.79 174.3h2.7v13.4h-2.7zM354.8 174.3h2.7v13.4h-2.7zM358.82 174.3h2.7v13.4h-2.7zM362.84 174.3h2.7v13.4h-2.7zM366.85 174.3h2.7v13.4h-2.7zM370.87 174.3h2.7v13.4h-2.7zM374.89 174.3h2.7v13.4h-2.7zM378.91 174.3h2.7v13.4h-2.7zM382.92 174.3h2.7v13.4h-2.7zM386.94 174.3h2.7v13.4h-2.7zM390.96 174.3h2.7v13.4h-2.7zM394.97 174.3h2.7v13.4h-2.7zM398.99 174.3h2.7v13.4h-2.7zM403.01 174.3h2.7v13.4h-2.7zM407.02 174.3h2.7v13.4h-2.7zM411.04 174.3h2.7v13.4h-2.7zM415.06 174.3h2.7v13.4h-2.7zM419.08 174.3h2.7v13.4h-2.7zM423.09 174.3h2.7v13.4h-2.7zM427.11 174.3h2.7v13.4h-2.7zM431.13 174.3h2.7v13.4h-2.7zM435.14 174.3h2.7v13.4h-2.7zM439.16 174.3h2.7v13.4h-2.7zM443.18 174.3h2.7v13.4h-2.7zM447.19 174.3h2.7v13.4h-2.7zM451.21 174.3h2.7v13.4h-2.7zM455.23 174.3h2.7v13.4h-2.7zM459.25 174.3h2.7v13.4h-2.7zM463.26 174.3h2.7v13.4h-2.7zM467.28 174.3h2.7v13.4h-2.7zM471.3 174.3h2.7v13.4h-2.7zM475.31 174.3h2.7v13.4h-2.7zM479.33 174.3h2.7v13.4h-2.7zM483.35 174.3h2.7v13.4h-2.7zM487.36 174.3h2.7v13.4h-2.7zM491.38 174.3h2.7v13.4h-2.7zM495.4 174.3h2.7v13.4h-2.7zM499.42 174.3h2.7v13.4h-2.7zM503.43 174.3h2.7v13.4h-2.7zM507.45 174.3h2.7v13.4h-2.7zM511.47 174.3h2.7v13.4h-2.7zM515.48 174.3h2.7v13.4h-2.7z"/>
<path fill="#c9a92a" d="M198.14 174.3h2.7v13.4h-2.7zM250.36 174.3h2.7v13.4h-2.7z"/>
<path fill="#dadada" d="M117.8 189.34h2.7v13.4h-2.7zM137.88 189.34h2.7v13.4h-2.7zM141.9 189.34h2.7v13.4h-2.7zM149.94 189.34h2.7v13.4h-2.7zM153.95 189.34h2.7v13.4h-2.7zM161.99 189.34h2.7v13.4h-2.7zM166 189.34h2.7v13.4h-2.7zM170.02 189.34h2.7v13.4h-2.7zM174.04 189.34h2.7v13.4h-2.7zM182.07 189.34h2.7v13.4h-2.7zM186.09 189.34h2.7v13.4h-2.7zM190.11 189.34h2.7v13.4h-2.7zM194.12 189.34h2.7v13.4h-2.7zM210.19 189.34h2.7v13.4h-2.7zM214.21 189.34h2.7v13.4h-2.7zM222.24 189.34h2.7v13.4h-2.7zM226.26 189.34h2.7v13.4h-2.7zM230.28 189.34h2.7v13.4h-2.7zM238.31 189.34h2.7v13.4h-2.7zM242.33 189.34h2.7v13.4h-2.7zM246.34 189.34h2.7v13.4h-2.7zM262.41 189.34h2.7v13.4h-2.7zM266.43 189.34h2.7v13.4h-2.7zM270.45 189.34h2.7v13.4h-2.7zM274.46 189.34h2.7v13.4h-2.7zM278.48 189.34h2.7v13.4h-2.7zM282.5 189.34h2.7v13.4h-2.7zM286.51 189.34h2.7v13.4h-2.7zM290.53 189.34h2.7v13.4h-2.7zM294.55 189.34h2.7v13.4h-2.7zM298.56 189.34h2.7v13.4h-2.7zM302.58 189.34h2.7v13.4h-2.7zM310.62 189.34h2.7v13.4h-2.7zM314.63 189.34h2.7v13.4h-2.7zM318.65 189.34h2.7v13.4h-2.7zM322.67 189.34h2.7v13.4h-2.7zM326.68 189.34h2.7v13.4h-2.7zM330.7 189.34h2.7v13.4h-2.7zM334.72 189.34h2.7v13.4h-2.7zM338.74 189.34h2.7v13.4h-2.7zM342.75 189.34h2.7v13.4h-2.7zM346.77 189.34h2.7v13.4h-2.7zM350.79 189.34h2.7v13.4h-2.7zM354.8 189.34h2.7v13.4h-2.7zM362.84 189.34h2.7v13.4h-2.7zM366.85 189.34h2.7v13.4h-2.7zM370.87 189.34h2.7v13.4h-2.7zM374.89 189.34h2.7v13.4h-2.7zM378.91 189.34h2.7v13.4h-2.7zM382.92 189.34h2.7v13.4h-2.7zM394.97 189.34h2.7v13.4h-2.7zM398.99 189.34h2.7v13.4h-2.7zM403.01 189.34h2.7v13.4h-2.7zM407.02 189.34h2.7v13.4h-2.7zM411.04 189.34h2.7v13.4h-2.7zM415.06 189.34h2.7v13.4h-2.7zM419.08 189.34h2.7v13.4h-2.7zM423.09 189.34h2.7v13.4h-2.7zM427.11 189.34h2.7v13.4h-2.7zM431.13 189.34h2.7v13.4h-2.7zM435.14 189.34h2.7v13.4h-2.7zM443.18 189.34h2.7v13.4h-2.7zM447.19 189.34h2.7v13.4h-2.7zM451.21 189.34h2.7v13.4h-2.7zM455.23 189.34h2.7v13.4h-2.7zM459.25 189.34h2.7v13.4h-2.7zM463.26 189.34h2.7v13.4h-2.7zM467.28 189.34h2.7v13.4h-2.7zM471.3 189.34h2.7v13.4h-2.7zM475.31 189.34h2.7v13.4h-2.7zM479.33 189.34h2.7v13.4h-2.7zM483.35 189.34h2.7v13.4h-2.7zM487.36 189.34h2.7v13.4h-2.7zM491.38 189.34h2.7v13.4h-2.7zM495.4 189.34h2.7v13.4h-2.7zM499.42 189.34h2.7v13.4h-2.7zM503.43 189.34h2.7v13.4h-2.7zM507.45 189.34h2.7v13.4h-2.7zM511.47 189.34h2.7v13.4h-2.7zM515.48 189.34h2.7v13.4h-2.7z"/>
<path fill="#c9a92a" d="M121.82 189.34h2.7v13.4h-2.7zM125.83 189.34h2.7v13.4h-2.7zM129.85 189.34h2.7v13.4h-2.7zM133.87 189.34h2.7v13.4h-2.7zM145.92 189.34h2.7v13.4h-2.7zM157.97 189.34h2.7v13.4h-2.7zM178.06 189.34h2.7v13.4h-2.7zM198.14 189.34h2.7v13.4h-2.7zM202.16 189.34h2.7v13.4h-2.7zM206.17 189.34h2.7v13.4h-2.7zM218.23 189.34h2.7v13.4h-2.7zM234.29 189.34h2.7v13.4h-2.7zM250.36 189.34h2.7v13.4h-2.7zM254.38 189.34h2.7v13.4h-2.7zM258.39 189.34h2.7v13.4h-2.7zM306.6 189.34h2.7v13.4h-2.7zM358.82 189.34h2.7v13.4h-2.7zM386.94 189.34h2.7v13.4h-2.7zM390.96 189.34h2.7v13.4h-2.7zM439.16 189.34h2.7v13.4h-2.7z"/>
<path fill="#dadada" d="M117.8 204.38h2.7v13.4h-2.7zM121.82 204.38h2.7v13.4h-2.7zM125.83 204.38h2.7v13.4h-2.7zM129.85 204.38h2.7v13.4h-2.7zM133.87 204.38h2.7v13.4h-2.7zM137.88 204.38h2.7v13.4h-2.7zM141.9 204.38h2.7v13.4h-2.7zM145.92 204.38h2.7v13.4h-2.7zM149.94 204.38h2.7v13.4h-2.7zM153.95 204.38h2.7v13.4h-2.7zM157.97 204.38h2.7v13.4h-2.7zM161.99 204.38h2.7v13.4h-2.7zM166 204.38h2.7v13.4h-2.7zM170.02 204.38h2.7v13.4h-2.7zM174.04 204.38h2.7v13.4h-2.7zM178.06 204.38h2.7v13.4h-2.7zM182.07 204.38h2.7v13.4h-2.7zM186.09 204.38h2.7v13.4h-2.7zM190.11 204.38h2.7v13.4h-2.7zM194.12 204.38h2.7v13.4h-2.7zM198.14 204.38h2.7v13.4h-2.7zM202.16 204.38h2.7v13.4h-2.7zM206.17 204.38h2.7v13.4h-2.7zM210.19 204.38h2.7v13.4h-2.7zM214.21 204.38h2.7v13.4h-2.7zM218.23 204.38h2.7v13.4h-2.7zM222.24 204.38h2.7v13.4h-2.7zM226.26 204.38h2.7v13.4h-2.7zM230.28 204.38h2.7v13.4h-2.7zM234.29 204.38h2.7v13.4h-2.7zM238.31 204.38h2.7v13.4h-2.7zM242.33 204.38h2.7v13.4h-2.7zM246.34 204.38h2.7v13.4h-2.7zM250.36 204.38h2.7v13.4h-2.7zM254.38 204.38h2.7v13.4h-2.7zM258.39 204.38h2.7v13.4h-2.7zM262.41 204.38h2.7v13.4h-2.7zM266.43 204.38h2.7v13.4h-2.7zM270.45 204.38h2.7v13.4h-2.7zM274.46 204.38h2.7v13.4h-2.7zM278.48 204.38h2.7v13.4h-2.7zM282.5 204.38h2.7v13.4h-2.7zM286.51 204.38h2.7v13.4h-2.7zM290.53 204.38h2.7v13.4h-2.7zM294.55 204.38h2.7v13.4h-2.7zM298.56 204.38h2.7v13.4h-2.7zM302.58 204.38h2.7v13.4h-2.7zM306.6 204.38h2.7v13.4h-2.7zM310.62 204.38h2.7v13.4h-2.7zM314.63 204.38h2.7v13.4h-2.7zM318.65 204.38h2.7v13.4h-2.7zM322.67 204.38h2.7v13.4h-2.7zM326.68 204.38h2.7v13.4h-2.7zM330.7 204.38h2.7v13.4h-2.7zM334.72 204.38h2.7v13.4h-2.7zM338.74 204.38h2.7v13.4h-2.7zM342.75 204.38h2.7v13.4h-2.7zM346.77 204.38h2.7v13.4h-2.7zM350.79 204.38h2.7v13.4h-2.7zM354.8 204.38h2.7v13.4h-2.7zM358.82 204.38h2.7v13.4h-2.7zM362.84 204.38h2.7v13.4h-2.7zM366.85 204.38h2.7v13.4h-2.7zM370.87 204.38h2.7v13.4h-2.7zM374.89 204.38h2.7v13.4h-2.7zM378.91 204.38h2.7v13.4h-2.7zM382.92 204.38h2.7v13.4h-2.7zM386.94 204.38h2.7v13.4h-2.7zM390.96 204.38h2.7v13.4h-2.7zM394.97 204.38h2.7v13.4h-2.7zM398.99 204.38h2.7v13.4h-2.7zM403.01 204.38h2.7v13.4h-2.7zM407.02 204.38h2.7v13.4h-2.7zM411.04 204.38h2.7v13.4h-2.7zM415.06 204.38h2.7v13.4h-2.7zM419.08 204.38h2.7v13.4h-2.7zM423.09 204.38h2.7v13.4h-2.7zM427.11 204.38h2.7v13.4h-2.7zM431.13 204.38h2.7v13.4h-2.7zM435.14 204.38h2.7v13.4h-2.7zM439.16 204.38h2.7v13.4h-2.7zM443.18 204.38h2.7v13.4h-2.7zM447.19 204.38h2.7v13.4h-2.7zM451.21 204.38h2.7v13.4h-2.7zM455.23 204.38h2.7v13.4h-2.7zM459.25 204.38h2.7v13.4h-2.7zM463.26 204.38h2.7v13.4h-2.7zM467.28 204.38h2.7v13.4h-2.7zM471.3 204.38h2.7v13.4h-2.7zM475.31 204.38h2.7v13.4h-2.7zM479.33 204.38h2.7v13.4h-2.7zM483.35 204.38h2.7v13.4h-2.7zM487.36 204.38h2.7v13.4h-2.7zM491.38 204.38h2.7v13.4h-2.7zM495.4 204.38h2.7v13.4h-2.7zM499.42 204.38h2.7v13.4h-2.7zM507.45 204.38h2.7v13.4h-2.7zM511.47 204.38h2.7v13.4h-2.7zM515.48 204.38h2.7v13.4h-2.7z"/>
<path fill="#c9a92a" d="M503.43 204.38h2.7v13.4h-2.7z"/>
<path fill="#dadada" d="M117.8 219.42h2.7v13.4h-2.7zM125.83 219.42h2.7v13.4h-2.7zM129.85 219.42h2.7v13.4h-2.7zM133.87 219.42h2.7v13.4h-2.7zM137.88 219.42h2.7v13.4h-2.7zM141.9 219.42h2.7v13.4h-2.7zM145.92 219.42h2.7v13.4h-2.7zM149.94 219.42h2.7v13.4h-2.7zM153.95 219.42h2.7v13.4h-2.7zM157.97 219.42h2.7v13.4h-2.7zM161.99 219.42h2.7v13.4h-2.7zM166 219.42h2.7v13.4h-2.7zM170.02 219.42h2.7v13.4h-2.7zM174.04 219.42h2.7v13.4h-2.7zM178.06 219.42h2.7v13.4h-2.7zM182.07 219.42h2.7v13.4h-2.7zM186.09 219.42h2.7v13.4h-2.7zM190.11 219.42h2.7v13.4h-2.7zM194.12 219.42h2.7v13.4h-2.7zM198.14 219.42h2.7v13.4h-2.7zM202.16 219.42h2.7v13.4h-2.7zM206.17 219.42h2.7v13.4h-2.7zM210.19 219.42h2.7v13.4h-2.7zM214.21 219.42h2.7v13.4h-2.7zM218.23 219.42h2.7v13.4h-2.7zM222.24 219.42h2.7v13.4h-2.7zM226.26 219.42h2.7v13.4h-2.7zM234.29 219.42h2.7v13.4h-2.7zM238.31 219.42h2.7v13.4h-2.7zM242.33 219.42h2.7v13.4h-2.7zM246.34 219.42h2.7v13.4h-2.7zM250.36 219.42h2.7v13.4h-2.7zM254.38 219.42h2.7v13.4h-2.7zM262.41 219.42h2.7v13.4h-2.7zM266.43 219.42h2.7v13.4h-2.7zM270.45 219.42h2.7v13.4h-2.7zM274.46 219.42h2.7v13.4h-2.7zM278.48 219.42h2.7v13.4h-2.7zM282.5 219.42h2.7v13.4h-2.7zM290.53 219.42h2.7v13.4h-2.7zM294.55 219.42h2.7v13.4h-2.7zM298.56 219.42h2.7v13.4h-2.7zM302.58 219.42h2.7v13.4h-2.7zM306.6 219.42h2.7v13.4h-2.7zM310.62 219.42h2.7v13.4h-2.7zM314.63 219.42h2.7v13.4h-2.7zM318.65 219.42h2.7v13.4h-2.7zM322.67 219.42h2.7v13.4h-2.7zM326.68 219.42h2.7v13.4h-2.7zM330.7 219.42h2.7v13.4h-2.7zM334.72 219.42h2.7v13.4h-2.7zM338.74 219.42h2.7v13.4h-2.7zM342.75 219.42h2.7v13.4h-2.7zM346.77 219.42h2.7v13.4h-2.7zM350.79 219.42h2.7v13.4h-2.7zM354.8 219.42h2.7v13.4h-2.7zM358.82 219.42h2.7v13.4h-2.7zM362.84 219.42h2.7v13.4h-2.7zM366.85 219.42h2.7v13.4h-2.7zM370.87 219.42h2.7v13.4h-2.7zM374.89 219.42h2.7v13.4h-2.7zM378.91 219.42h2.7v13.4h-2.7zM382.92 219.42h2.7v13.4h-2.7zM386.94 219.42h2.7v13.4h-2.7zM390.96 219.42h2.7v13.4h-2.7zM394.97 219.42h2.7v13.4h-2.7zM398.99 219.42h2.7v13.4h-2.7zM403.01 219.42h2.7v13.4h-2.7zM407.02 219.42h2.7v13.4h-2.7zM411.04 219.42h2.7v13.4h-2.7zM415.06 219.42h2.7v13.4h-2.7zM419.08 219.42h2.7v13.4h-2.7zM423.09 219.42h2.7v13.4h-2.7zM427.11 219.42h2.7v13.4h-2.7zM431.13 219.42h2.7v13.4h-2.7zM435.14 219.42h2.7v13.4h-2.7zM439.16 219.42h2.7v13.4h-2.7zM443.18 219.42h2.7v13.4h-2.7zM447.19 219.42h2.7v13.4h-2.7zM451.21 219.42h2.7v13.4h-2.7zM455.23 219.42h2.7v13.4h-2.7zM459.25 219.42h2.7v13.4h-2.7zM463.26 219.42h2.7v13.4h-2.7zM467.28 219.42h2.7v13.4h-2.7zM471.3 219.42h2.7v13.4h-2.7zM475.31 219.42h2.7v13.4h-2.7zM479.33 219.42h2.7v13.4h-2.7zM483.35 219.42h2.7v13.4h-2.7zM487.36 219.42h2.7v13.4h-2.7zM491.38 219.42h2.7v13.4h-2.7zM495.4 219.42h2.7v13.4h-2.7zM499.42 219.42h2.7v13.4h-2.7zM503.43 219.42h2.7v13.4h-2.7zM507.45 219.42h2.7v13.4h-2.7zM511.47 219.42h2.7v13.4h-2.7zM515.48 219.42h2.7v13.4h-2.7z"/>
<path fill="#c9a92a" d="M121.82 219.42h2.7v13.4h-2.7zM230.28 219.42h2.7v13.4h-2.7zM258.39 219.42h2.7v13.4h-2.7zM286.51 219.42h2.7v13.4h-2.7z"/>
<path fill="#e8e8e8" d="M117.8 234.46h2.7v13.4h-2.7zM121.82 234.46h2.7v13.4h-2.7zM125.83 234.46h2.7v13.4h-2.7zM129.85 234.46h2.7v13.4h-2.7zM133.87 234.46h2.7v13.4h-2.7zM137.88 234.46h2.7v13.4h-2.7zM141.9 234.46h2.7v13.4h-2.7zM145.92 234.46h2.7v13.4h-2.7zM149.94 234.46h2.7v13.4h-2.7zM153.95 234.46h2.7v13.4h-2.7zM157.97 234.46h2.7v13.4h-2.7zM161.99 234.46h2.7v13.4h-2.7zM170.02 234.46h2.7v13.4h-2.7zM174.04 234.46h2.7v13.4h-2.7zM182.07 234.46h2.7v13.4h-2.7zM186.09 234.46h2.7v13.4h-2.7zM190.11 234.46h2.7v13.4h-2.7zM194.12 234.46h2.7v13.4h-2.7zM206.17 234.46h2.7v13.4h-2.7zM210.19 234.46h2.7v13.4h-2.7zM214.21 234.46h2.7v13.4h-2.7zM218.23 234.46h2.7v13.4h-2.7zM222.24 234.46h2.7v13.4h-2.7zM226.26 234.46h2.7v13.4h-2.7zM230.28 234.46h2.7v13.4h-2.7zM234.29 234.46h2.7v13.4h-2.7zM238.31 234.46h2.7v13.4h-2.7zM242.33 234.46h2.7v13.4h-2.7zM246.34 234.46h2.7v13.4h-2.7zM250.36 234.46h2.7v13.4h-2.7zM254.38 234.46h2.7v13.4h-2.7zM258.39 234.46h2.7v13.4h-2.7zM270.45 234.46h2.7v13.4h-2.7zM274.46 234.46h2.7v13.4h-2.7zM278.48 234.46h2.7v13.4h-2.7zM282.5 234.46h2.7v13.4h-2.7zM286.51 234.46h2.7v13.4h-2.7zM290.53 234.46h2.7v13.4h-2.7zM294.55 234.46h2.7v13.4h-2.7zM298.56 234.46h2.7v13.4h-2.7zM302.58 234.46h2.7v13.4h-2.7zM306.6 234.46h2.7v13.4h-2.7zM310.62 234.46h2.7v13.4h-2.7zM314.63 234.46h2.7v13.4h-2.7zM318.65 234.46h2.7v13.4h-2.7zM322.67 234.46h2.7v13.4h-2.7zM326.68 234.46h2.7v13.4h-2.7zM330.7 234.46h2.7v13.4h-2.7zM334.72 234.46h2.7v13.4h-2.7zM338.74 234.46h2.7v13.4h-2.7zM342.75 234.46h2.7v13.4h-2.7zM346.77 234.46h2.7v13.4h-2.7zM350.79 234.46h2.7v13.4h-2.7zM354.8 234.46h2.7v13.4h-2.7zM358.82 234.46h2.7v13.4h-2.7zM362.84 234.46h2.7v13.4h-2.7zM366.85 234.46h2.7v13.4h-2.7zM370.87 234.46h2.7v13.4h-2.7zM374.89 234.46h2.7v13.4h-2.7zM378.91 234.46h2.7v13.4h-2.7zM382.92 234.46h2.7v13.4h-2.7zM386.94 234.46h2.7v13.4h-2.7zM390.96 234.46h2.7v13.4h-2.7zM394.97 234.46h2.7v13.4h-2.7zM398.99 234.46h2.7v13.4h-2.7zM403.01 234.46h2.7v13.4h-2.7zM407.02 234.46h2.7v13.4h-2.7zM411.04 234.46h2.7v13.4h-2.7zM415.06 234.46h2.7v13.4h-2.7zM419.08 234.46h2.7v13.4h-2.7zM423.09 234.46h2.7v13.4h-2.7zM427.11 234.46h2.7v13.4h-2.7zM431.13 234.46h2.7v13.4h-2.7zM439.16 234.46h2.7v13.4h-2.7zM443.18 234.46h2.7v13.4h-2.7zM447.19 234.46h2.7v13.4h-2.7zM451.21 234.46h2.7v13.4h-2.7zM455.23 234.46h2.7v13.4h-2.7zM459.25 234.46h2.7v13.4h-2.7zM463.26 234.46h2.7v13.4h-2.7zM467.28 234.46h2.7v13.4h-2.7zM471.3 234.46h2.7v13.4h-2.7zM475.31 234.46h2.7v13.4h-2.7zM479.33 234.46h2.7v13.4h-2.7zM483.35 234.46h2.7v13.4h-2.7zM487.36 234.46h2.7v13.4h-2.7zM491.38 234.46h2.7v13.4h-2.7zM495.4 234.46h2.7v13.4h-2.7zM499.42 234.46h2.7v13.4h-2.7zM503.43 234.46h2.7v13.4h-2.7zM507.45 234.46h2.7v13.4h-2.7zM511.47 234.46h2.7v13.4h-2.7zM515.48 234.46h2.7v13.4h-2.7z"/>
<path fill="#c9a92a" d="M166 234.46h2.7v13.4h-2.7zM178.06 234.46h2.7v13.4h-2.7zM198.14 234.46h2.7v13.4h-2.7zM202.16 234.46h2.7v13.4h-2.7zM262.41 234.46h2.7v13.4h-2.7zM266.43 234.46h2.7v13.4h-2.7zM435.14 234.46h2.7v13.4h-2.7z"/>
<path fill="#e8e8e8" d="M117.8 249.5h2.7v13.4h-2.7zM121.82 249.5h2.7v13.4h-2.7zM125.83 249.5h2.7v13.4h-2.7zM129.85 249.5h2.7v13.4h-2.7zM133.87 249.5h2.7v13.4h-2.7zM137.88 249.5h2.7v13.4h-2.7zM141.9 249.5h2.7v13.4h-2.7zM145.92 249.5h2.7v13.4h-2.7zM149.94 249.5h2.7v13.4h-2.7zM153.95 249.5h2.7v13.4h-2.7zM157.97 249.5h2.7v13.4h-2.7zM161.99 249.5h2.7v13.4h-2.7zM166 249.5h2.7v13.4h-2.7zM170.02 249.5h2.7v13.4h-2.7zM174.04 249.5h2.7v13.4h-2.7zM178.06 249.5h2.7v13.4h-2.7zM182.07 249.5h2.7v13.4h-2.7zM186.09 249.5h2.7v13.4h-2.7zM190.11 249.5h2.7v13.4h-2.7zM194.12 249.5h2.7v13.4h-2.7zM198.14 249.5h2.7v13.4h-2.7zM202.16 249.5h2.7v13.4h-2.7zM206.17 249.5h2.7v13.4h-2.7zM210.19 249.5h2.7v13.4h-2.7zM218.23 249.5h2.7v13.4h-2.7zM222.24 249.5h2.7v13.4h-2.7zM226.26 249.5h2.7v13.4h-2.7zM230.28 249.5h2.7v13.4h-2.7zM234.29 249.5h2.7v13.4h-2.7zM238.31 249.5h2.7v13.4h-2.7zM242.33 249.5h2.7v13.4h-2.7zM250.36 249.5h2.7v13.4h-2.7zM254.38 249.5h2.7v13.4h-2.7zM258.39 249.5h2.7v13.4h-2.7zM262.41 249.5h2.7v13.4h-2.7zM274.46 249.5h2.7v13.4h-2.7zM278.48 249.5h2.7v13.4h-2.7zM282.5 249.5h2.7v13.4h-2.7zM286.51 249.5h2.7v13.4h-2.7zM290.53 249.5h2.7v13.4h-2.7zM294.55 249.5h2.7v13.4h-2.7zM298.56 249.5h2.7v13.4h-2.7zM302.58 249.5h2.7v13.4h-2.7zM306.6 249.5h2.7v13.4h-2.7zM310.62 249.5h2.7v13.4h-2.7zM314.63 249.5h2.7v13.4h-2.7zM318.65 249.5h2.7v13.4h-2.7zM322.67 249.5h2.7v13.4h-2.7zM326.68 249.5h2.7v13.4h-2.7zM330.7 249.5h2.7v13.4h-2.7zM334.72 249.5h2.7v13.4h-2.7zM338.74 249.5h2.7v13.4h-2.7zM342.75 249.5h2.7v13.4h-2.7zM346.77 249.5h2.7v13.4h-2.7zM350.79 249.5h2.7v13.4h-2.7zM354.8 249.5h2.7v13.4h-2.7zM358.82 249.5h2.7v13.4h-2.7zM362.84 249.5h2.7v13.4h-2.7zM366.85 249.5h2.7v13.4h-2.7zM370.87 249.5h2.7v13.4h-2.7zM374.89 249.5h2.7v13.4h-2.7zM386.94 249.5h2.7v13.4h-2.7zM390.96 249.5h2.7v13.4h-2.7zM394.97 249.5h2.7v13.4h-2.7zM398.99 249.5h2.7v13.4h-2.7zM403.01 249.5h2.7v13.4h-2.7zM407.02 249.5h2.7v13.4h-2.7zM411.04 249.5h2.7v13.4h-2.7zM415.06 249.5h2.7v13.4h-2.7zM419.08 249.5h2.7v13.4h-2.7zM423.09 249.5h2.7v13.4h-2.7zM427.11 249.5h2.7v13.4h-2.7zM431.13 249.5h2.7v13.4h-2.7zM435.14 249.5h2.7v13.4h-2.7zM439.16 249.5h2.7v13.4h-2.7zM443.18 249.5h2.7v13.4h-2.7zM447.19 249.5h2.7v13.4h-2.7zM451.21 249.5h2.7v13.4h-2.7zM455.23 249.5h2.7v13.4h-2.7zM459.25 249.5h2.7v13.4h-2.7zM463.26 249.5h2.7v13.4h-2.7zM467.28 249.5h2.7v13.4h-2.7zM471.3 249.5h2.7v13.4h-2.7zM475.31 249.5h2.7v13.4h-2.7zM479.33 249.5h2.7v13.4h-2.7zM483.35 249.5h2.7v13.4h-2.7zM487.36 249.5h2.7v13.4h-2.7zM495.4 249.5h2.7v13.4h-2.7zM503.43 249.5h2.7v13.4h-2.7zM507.45 249.5h2.7v13.4h-2.7zM511.47 249.5h2.7v13.4h-2.7zM515.48 249.5h2.7v13.4h-2.7z"/>
<path fill="#c9a92a" d="M214.21 249.5h2.7v13.4h-2.7zM246.34 249.5h2.7v13.4h-2.7zM266.43 249.5h2.7v13.4h-2.7zM270.45 249.5h2.7v13.4h-2.7zM378.91 249.5h2.7v13.4h-2.7zM382.92 249.5h2.7v13.4h-2.7zM491.38 249.5h2.7v13.4h-2.7zM499.42 249.5h2.7v13.4h-2.7z"/>
<path fill="#e8e8e8" d="M117.8 264.54h2.7v13.4h-2.7zM121.82 264.54h2.7v13.4h-2.7zM125.83 264.54h2.7v13.4h-2.7zM129.85 264.54h2.7v13.4h-2.7zM133.87 264.54h2.7v13.4h-2.7zM141.9 264.54h2.7v13.4h-2.7zM145.92 264.54h2.7v13.4h-2.7zM149.94 264.54h2.7v13.4h-2.7zM153.95 264.54h2.7v13.4h-2.7zM157.97 264.54h2.7v13.4h-2.7zM161.99 264.54h2.7v13.4h-2.7zM166 264.54h2.7v13.4h-2.7zM170.02 264.54h2.7v13.4h-2.7zM174.04 264.54h2.7v13.4h-2.7zM178.06 264.54h2.7v13.4h-2.7zM182.07 264.54h2.7v13.4h-2.7zM186.09 264.54h2.7v13.4h-2.7zM190.11 264.54h2.7v13.4h-2.7zM194.12 264.54h2.7v13.4h-2.7zM198.14 264.54h2.7v13.4h-2.7zM202.16 264.54h2.7v13.4h-2.7zM206.17 264.54h2.7v13.4h-2.7zM210.19 264.54h2.7v13.4h-2.7zM214.21 264.54h2.7v13.4h-2.7zM218.23 264.54h2.7v13.4h-2.7zM222.24 264.54h2.7v13.4h-2.7zM226.26 264.54h2.7v13.4h-2.7zM230.28 264.54h2.7v13.4h-2.7zM234.29 264.54h2.7v13.4h-2.7zM238.31 264.54h2.7v13.4h-2.7zM242.33 264.54h2.7v13.4h-2.7zM246.34 264.54h2.7v13.4h-2.7zM250.36 264.54h2.7v13.4h-2.7zM254.38 264.54h2.7v13.4h-2.7zM258.39 264.54h2.7v13.4h-2.7zM262.41 264.54h2.7v13.4h-2.7zM266.43 264.54h2.7v13.4h-2.7zM274.46 264.54h2.7v13.4h-2.7zM278.48 264.54h2.7v13.4h-2.7zM282.5 264.54h2.7v13.4h-2.7zM286.51 264.54h2.7v13.4h-2.7zM290.53 264.54h2.7v13.4h-2.7zM294.55 264.54h2.7v13.4h-2.7zM298.56 264.54h2.7v13.4h-2.7zM302.58 264.54h2.7v13.4h-2.7zM306.6 264.54h2.7v13.4h-2.7zM310.62 264.54h2.7v13.4h-2.7zM314.63 264.54h2.7v13.4h-2.7zM318.65 264.54h2.7v13.4h-2.7zM322.67 264.54h2.7v13.4h-2.7zM326.68 264.54h2.7v13.4h-2.7zM330.7 264.54h2.7v13.4h-2.7zM334.72 264.54h2.7v13.4h-2.7zM338.74 264.54h2.7v13.4h-2.7zM342.75 264.54h2.7v13.4h-2.7zM346.77 264.54h2.7v13.4h-2.7zM350.79 264.54h2.7v13.4h-2.7zM354.8 264.54h2.7v13.4h-2.7zM358.82 264.54h2.7v13.4h-2.7zM362.84 264.54h2.7v13.4h-2.7zM370.87 264.54h2.7v13.4h-2.7zM374.89 264.54h2.7v13.4h-2.7zM378.91 264.54h2.7v13.4h-2.7zM382.92 264.54h2.7v13.4h-2.7zM386.94 264.54h2.7v13.4h-2.7zM390.96 264.54h2.7v13.4h-2.7zM394.97 264.54h2.7v13.4h-2.7zM398.99 264.54h2.7v13.4h-2.7zM403.01 264.54h2.7v13.4h-2.7zM407.02 264.54h2.7v13.4h-2.7zM411.04 264.54h2.7v13.4h-2.7zM415.06 264.54h2.7v13.4h-2.7zM419.08 264.54h2.7v13.4h-2.7zM423.09 264.54h2.7v13.4h-2.7zM427.11 264.54h2.7v13.4h-2.7zM431.13 264.54h2.7v13.4h-2.7zM435.14 264.54h2.7v13.4h-2.7zM439.16 264.54h2.7v13.4h-2.7zM443.18 264.54h2.7v13.4h-2.7zM447.19 264.54h2.7v13.4h-2.7zM451.21 264.54h2.7v13.4h-2.7zM455.23 264.54h2.7v13.4h-2.7zM459.25 264.54h2.7v13.4h-2.7zM463.26 264.54h2.7v13.4h-2.7zM467.28 264.54h2.7v13.4h-2.7zM471.3 264.54h2.7v13.4h-2.7zM475.31 264.54h2.7v13.4h-2.7zM483.35 264.54h2.7v13.4h-2.7zM487.36 264.54h2.7v13.4h-2.7zM495.4 264.54h2.7v13.4h-2.7zM499.42 264.54h2.7v13.4h-2.7zM503.43 264.54h2.7v13.4h-2.7zM507.45 264.54h2.7v13.4h-2.7zM511.47 264.54h2.7v13.4h-2.7zM515.48 264.54h2.7v13.4h-2.7z"/>
<path fill="#c9a92a" d="M137.88 264.54h2.7v13.4h-2.7zM270.45 264.54h2.7v13.4h-2.7zM366.85 264.54h2.7v13.4h-2.7zM479.33 264.54h2.7v13.4h-2.7zM491.38 264.54h2.7v13.4h-2.7z"/>
<path fill="#e8e8e8" d="M117.8 279.58h2.7v13.4h-2.7zM125.83 279.58h2.7v13.4h-2.7zM129.85 279.58h2.7v13.4h-2.7zM133.87 279.58h2.7v13.4h-2.7zM137.88 279.58h2.7v13.4h-2.7zM141.9 279.58h2.7v13.4h-2.7zM145.92 279.58h2.7v13.4h-2.7zM149.94 279.58h2.7v13.4h-2.7zM153.95 279.58h2.7v13.4h-2.7zM157.97 279.58h2.7v13.4h-2.7zM161.99 279.58h2.7v13.4h-2.7zM166 279.58h2.7v13.4h-2.7zM170.02 279.58h2.7v13.4h-2.7zM174.04 279.58h2.7v13.4h-2.7zM178.06 279.58h2.7v13.4h-2.7zM182.07 279.58h2.7v13.4h-2.7zM186.09 279.58h2.7v13.4h-2.7zM190.11 279.58h2.7v13.4h-2.7zM194.12 279.58h2.7v13.4h-2.7zM198.14 279.58h2.7v13.4h-2.7zM202.16 279.58h2.7v13.4h-2.7zM206.17 279.58h2.7v13.4h-2.7zM210.19 279.58h2.7v13.4h-2.7zM214.21 279.58h2.7v13.4h-2.7zM218.23 279.58h2.7v13.4h-2.7zM222.24 279.58h2.7v13.4h-2.7zM226.26 279.58h2.7v13.4h-2.7zM230.28 279.58h2.7v13.4h-2.7zM234.29 279.58h2.7v13.4h-2.7zM238.31 279.58h2.7v13.4h-2.7zM242.33 279.58h2.7v13.4h-2.7zM246.34 279.58h2.7v13.4h-2.7zM250.36 279.58h2.7v13.4h-2.7zM254.38 279.58h2.7v13.4h-2.7zM258.39 279.58h2.7v13.4h-2.7zM262.41 279.58h2.7v13.4h-2.7zM266.43 279.58h2.7v13.4h-2.7zM270.45 279.58h2.7v13.4h-2.7zM286.51 279.58h2.7v13.4h-2.7zM290.53 279.58h2.7v13.4h-2.7zM294.55 279.58h2.7v13.4h-2.7zM298.56 279.58h2.7v13.4h-2.7zM302.58 279.58h2.7v13.4h-2.7zM306.6 279.58h2.7v13.4h-2.7zM310.62 279.58h2.7v13.4h-2.7zM314.63 279.58h2.7v13.4h-2.7zM318.65 279.58h2.7v13.4h-2.7zM322.67 279.58h2.7v13.4h-2.7zM326.68 279.58h2.7v13.4h-2.7zM330.7 279.58h2.7v13.4h-2.7zM334.72 279.58h2.7v13.4h-2.7zM338.74 279.58h2.7v13.4h-2.7zM342.75 279.58h2.7v13.4h-2.7zM346.77 279.58h2.7v13.4h-2.7zM354.8 279.58h2.7v13.4h-2.7zM358.82 279.58h2.7v13.4h-2.7zM362.84 279.58h2.7v13.4h-2.7zM366.85 279.58h2.7v13.4h-2.7zM370.87 279.58h2.7v13.4h-2.7zM374.89 279.58h2.7v13.4h-2.7zM378.91 279.58h2.7v13.4h-2.7zM382.92 279.58h2.7v13.4h-2.7zM386.94 279.58h2.7v13.4h-2.7zM390.96 279.58h2.7v13.4h-2.7zM394.97 279.58h2.7v13.4h-2.7zM398.99 279.58h2.7v13.4h-2.7zM403.01 279.58h2.7v13.4h-2.7zM407.02 279.58h2.7v13.4h-2.7zM411.04 279.58h2.7v13.4h-2.7zM415.06 279.58h2.7v13.4h-2.7zM419.08 279.58h2.7v13.4h-2.7zM423.09 279.58h2.7v13.4h-2.7zM427.11 279.58h2.7v13.4h-2.7zM431.13 279.58h2.7v13.4h-2.7zM435.14 279.58h2.7v13.4h-2.7zM439.16 279.58h2.7v13.4h-2.7zM443.18 279.58h2.7v13.4h-2.7zM447.19 279.58h2.7v13.4h-2.7zM451.21 279.58h2.7v13.4h-2.7zM455.23 279.58h2.7v13.4h-2.7zM459.25 279.58h2.7v13.4h-2.7zM463.26 279.58h2.7v13.4h-2.7zM467.28 279.58h2.7v13.4h-2.7zM471.3 279.58h2.7v13.4h-2.7zM475.31 279.58h2.7v13.4h-2.7zM479.33 279.58h2.7v13.4h-2.7zM483.35 279.58h2.7v13.4h-2.7zM487.36 279.58h2.7v13.4h-2.7zM491.38 279.58h2.7v13.4h-2.7zM495.4 279.58h2.7v13.4h-2.7zM499.42 279.58h2.7v13.4h-2.7zM503.43 279.58h2.7v13.4h-2.7zM507.45 279.58h2.7v13.4h-2.7zM511.47 279.58h2.7v13.4h-2.7zM515.48 279.58h2.7v13.4h-2.7z"/>
<path fill="#c9a92a" d="M121.82 279.58h2.7v13.4h-2.7zM274.46 279.58h2.7v13.4h-2.7zM278.48 279.58h2.7v13.4h-2.7zM282.5 279.58h2.7v13.4h-2.7zM350.79 279.58h2.7v13.4h-2.7z"/>
<path fill="#e8e8e8" d="M117.8 294.62h2.7v13.4h-2.7zM121.82 294.62h2.7v13.4h-2.7zM125.83 294.62h2.7v13.4h-2.7zM129.85 294.62h2.7v13.4h-2.7zM133.87 294.62h2.7v13.4h-2.7zM137.88 294.62h2.7v13.4h-2.7zM141.9 294.62h2.7v13.4h-2.7zM145.92 294.62h2.7v13.4h-2.7zM149.94 294.62h2.7v13.4h-2.7zM153.95 294.62h2.7v13.4h-2.7zM157.97 294.62h2.7v13.4h-2.7zM161.99 294.62h2.7v13.4h-2.7zM166 294.62h2.7v13.4h-2.7zM170.02 294.62h2.7v13.4h-2.7zM174.04 294.62h2.7v13.4h-2.7zM178.06 294.62h2.7v13.4h-2.7zM182.07 294.62h2.7v13.4h-2.7zM186.09 294.62h2.7v13.4h-2.7zM190.11 294.62h2.7v13.4h-2.7zM194.12 294.62h2.7v13.4h-2.7zM198.14 294.62h2.7v13.4h-2.7zM202.16 294.62h2.7v13.4h-2.7zM206.17 294.62h2.7v13.4h-2.7zM210.19 294.62h2.7v13.4h-2.7zM214.21 294.62h2.7v13.4h-2.7zM218.23 294.62h2.7v13.4h-2.7zM222.24 294.62h2.7v13.4h-2.7zM226.26 294.62h2.7v13.4h-2.7zM230.28 294.62h2.7v13.4h-2.7zM234.29 294.62h2.7v13.4h-2.7zM238.31 294.62h2.7v13.4h-2.7zM242.33 294.62h2.7v13.4h-2.7zM246.34 294.62h2.7v13.4h-2.7zM250.36 294.62h2.7v13.4h-2.7zM254.38 294.62h2.7v13.4h-2.7zM258.39 294.62h2.7v13.4h-2.7zM262.41 294.62h2.7v13.4h-2.7zM266.43 294.62h2.7v13.4h-2.7zM270.45 294.62h2.7v13.4h-2.7zM274.46 294.62h2.7v13.4h-2.7zM278.48 294.62h2.7v13.4h-2.7zM282.5 294.62h2.7v13.4h-2.7zM286.51 294.62h2.7v13.4h-2.7zM290.53 294.62h2.7v13.4h-2.7zM294.55 294.62h2.7v13.4h-2.7zM298.56 294.62h2.7v13.4h-2.7zM302.58 294.62h2.7v13.4h-2.7zM306.6 294.62h2.7v13.4h-2.7zM310.62 294.62h2.7v13.4h-2.7zM314.63 294.62h2.7v13.4h-2.7zM318.65 294.62h2.7v13.4h-2.7zM322.67 294.62h2.7v13.4h-2.7zM326.68 294.62h2.7v13.4h-2.7zM330.7 294.62h2.7v13.4h-2.7zM334.72 294.62h2.7v13.4h-2.7zM338.74 294.62h2.7v13.4h-2.7zM342.75 294.62h2.7v13.4h-2.7zM346.77 294.62h2.7v13.4h-2.7zM350.79 294.62h2.7v13.4h-2.7zM354.8 294.62h2.7v13.4h-2.7zM358.82 294.62h2.7v13.4h-2.7zM366.85 294.62h2.7v13.4h-2.7zM370.87 294.62h2.7v13.4h-2.7zM374.89 294.62h2.7v13.4h-2.7zM378.91 294.62h2.7v13.4h-2.7zM382.92 294.62h2.7v13.4h-2.7zM386.94 294.62h2.7v13.4h-2.7zM390.96 294.62h2.7v13.4h-2.7zM394.97 294.62h2.7v13.4h-2.7zM398.99 294.62h2.7v13.4h-2.7zM403.01 294.62h2.7v13.4h-2.7zM407.02 294.62h2.7v13.4h-2.7zM411.04 294.62h2.7v13.4h-2.7zM415.06 294.62h2.7v13.4h-2.7zM419.08 294.62h2.7v13.4h-2.7zM423.09 294.62h2.7v13.4h-2.7zM427.11 294.62h2.7v13.4h-2.7zM431.13 294.62h2.7v13.4h-2.7zM435.14 294.62h2.7v13.4h-2.7zM439.16 294.62h2.7v13.4h-2.7zM443.18 294.62h2.7v13.4h-2.7zM447.19 294.62h2.7v13.4h-2.7zM451.21 294.62h2.7v13.4h-2.7zM455.23 294.62h2.7v13.4h-2.7zM459.25 294.62h2.7v13.4h-2.7zM463.26 294.62h2.7v13.4h-2.7zM467.28 294.62h2.7v13.4h-2.7zM475.31 294.62h2.7v13.4h-2.7zM479.33 294.62h2.7v13.4h-2.7zM483.35 294.62h2.7v13.4h-2.7zM487.36 294.62h2.7v13.4h-2.7zM491.38 294.62h2.7v13.4h-2.7zM495.4 294.62h2.7v13.4h-2.7zM499.42 294.62h2.7v13.4h-2.7zM507.45 294.62h2.7v13.4h-2.7zM511.47 294.62h2.7v13.4h-2.7zM515.48 294.62h2.7v13.4h-2.7z"/>
<path fill="#c9a92a" d="M362.84 294.62h2.7v13.4h-2.7zM471.3 294.62h2.7v13.4h-2.7zM503.43 294.62h2.7v13.4h-2.7z"/>
<path fill="#e8e8e8" d="M117.8 309.66h2.7v13.4h-2.7zM121.82 309.66h2.7v13.4h-2.7zM125.83 309.66h2.7v13.4h-2.7zM129.85 309.66h2.7v13.4h-2.7zM133.87 309.66h2.7v13.4h-2.7zM137.88 309.66h2.7v13.4h-2.7zM141.9 309.66h2.7v13.4h-2.7zM145.92 309.66h2.7v13.4h-2.7zM149.94 309.66h2.7v13.4h-2.7zM153.95 309.66h2.7v13.4h-2.7zM157.97 309.66h2.7v13.4h-2.7zM161.99 309.66h2.7v13.4h-2.7zM166 309.66h2.7v13.4h-2.7zM170.02 309.66h2.7v13.4h-2.7zM174.04 309.66h2.7v13.4h-2.7zM178.06 309.66h2.7v13.4h-2.7zM182.07 309.66h2.7v13.4h-2.7zM186.09 309.66h2.7v13.4h-2.7zM194.12 309.66h2.7v13.4h-2.7zM198.14 309.66h2.7v13.4h-2.7zM202.16 309.66h2.7v13.4h-2.7zM206.17 309.66h2.7v13.4h-2.7zM210.19 309.66h2.7v13.4h-2.7zM214.21 309.66h2.7v13.4h-2.7zM218.23 309.66h2.7v13.4h-2.7zM222.24 309.66h2.7v13.4h-2.7zM226.26 309.66h2.7v13.4h-2.7zM230.28 309.66h2.7v13.4h-2.7zM234.29 309.66h2.7v13.4h-2.7zM238.31 309.66h2.7v13.4h-2.7zM242.33 309.66h2.7v13.4h-2.7zM246.34 309.66h2.7v13.4h-2.7zM250.36 309.66h2.7v13.4h-2.7zM254.38 309.66h2.7v13.4h-2.7zM258.39 309.66h2.7v13.4h-2.7zM262.41 309.66h2.7v13.4h-2.7zM266.43 309.66h2.7v13.4h-2.7zM270.45 309.66h2.7v13.4h-2.7zM274.46 309.66h2.7v13.4h-2.7zM278.48 309.66h2.7v13.4h-2.7zM282.5 309.66h2.7v13.4h-2.7zM286.51 309.66h2.7v13.4h-2.7zM290.53 309.66h2.7v13.4h-2.7zM294.55 309.66h2.7v13.4h-2.7zM298.56 309.66h2.7v13.4h-2.7zM302.58 309.66h2.7v13.4h-2.7zM306.6 309.66h2.7v13.4h-2.7zM310.62 309.66h2.7v13.4h-2.7zM314.63 309.66h2.7v13.4h-2.7zM318.65 309.66h2.7v13.4h-2.7zM322.67 309.66h2.7v13.4h-2.7zM326.68 309.66h2.7v13.4h-2.7zM330.7 309.66h2.7v13.4h-2.7zM334.72 309.66h2.7v13.4h-2.7zM338.74 309.66h2.7v13.4h-2.7zM342.75 309.66h2.7v13.4h-2.7zM346.77 309.66h2.7v13.4h-2.7zM350.79 309.66h2.7v13.4h-2.7zM354.8 309.66h2.7v13.4h-2.7zM358.82 309.66h2.7v13.4h-2.7zM362.84 309.66h2.7v13.4h-2.7zM366.85 309.66h2.7v13.4h-2.7zM370.87 309.66h2.7v13.4h-2.7zM374.89 309.66h2.7v13.4h-2.7zM378.91 309.66h2.7v13.4h-2.7zM382.92 309.66h2.7v13.4h-2.7zM386.94 309.66h2.7v13.4h-2.7zM390.96 309.66h2.7v13.4h-2.7zM394.97 309.66h2.7v13.4h-2.7zM398.99 309.66h2.7v13.4h-2.7zM403.01 309.66h2.7v13.4h-2.7zM407.02 309.66h2.7v13.4h-2.7zM411.04 309.66h2.7v13.4h-2.7zM415.06 309.66h2.7v13.4h-2.7zM419.08 309.66h2.7v13.4h-2.7zM423.09 309.66h2.7v13.4h-2.7zM427.11 309.66h2.7v13.4h-2.7zM431.13 309.66h2.7v13.4h-2.7zM435.14 309.66h2.7v13.4h-2.7zM439.16 309.66h2.7v13.4h-2.7zM443.18 309.66h2.7v13.4h-2.7zM447.19 309.66h2.7v13.4h-2.7zM451.21 309.66h2.7v13.4h-2.7zM455.23 309.66h2.7v13.4h-2.7zM459.25 309.66h2.7v13.4h-2.7zM463.26 309.66h2.7v13.4h-2.7zM467.28 309.66h2.7v13.4h-2.7zM471.3 309.66h2.7v13.4h-2.7zM475.31 309.66h2.7v13.4h-2.7zM479.33 309.66h2.7v13.4h-2.7zM483.35 309.66h2.7v13.4h-2.7zM487.36 309.66h2.7v13.4h-2.7zM491.38 309.66h2.7v13.4h-2.7zM495.4 309.66h2.7v13.4h-2.7zM499.42 309.66h2.7v13.4h-2.7zM503.43 309.66h2.7v13.4h-2.7zM507.45 309.66h2.7v13.4h-2.7zM515.48 309.66h2.7v13.4h-2.7z"/>
<path fill="#c9a92a" d="M190.11 309.66h2.7v13.4h-2.7zM511.47 309.66h2.7v13.4h-2.7z"/>
<path fill="#e8e8e8" d="M117.8 324.7h2.7v13.4h-2.7zM121.82 324.7h2.7v13.4h-2.7zM125.83 324.7h2.7v13.4h-2.7zM129.85 324.7h2.7v13.4h-2.7zM133.87 324.7h2.7v13.4h-2.7zM137.88 324.7h2.7v13.4h-2.7zM141.9 324.7h2.7v13.4h-2.7zM145.92 324.7h2.7v13.4h-2.7zM149.94 324.7h2.7v13.4h-2.7zM161.99 324.7h2.7v13.4h-2.7zM170.02 324.7h2.7v13.4h-2.7zM174.04 324.7h2.7v13.4h-2.7zM178.06 324.7h2.7v13.4h-2.7zM182.07 324.7h2.7v13.4h-2.7zM190.11 324.7h2.7v13.4h-2.7zM194.12 324.7h2.7v13.4h-2.7zM198.14 324.7h2.7v13.4h-2.7zM206.17 324.7h2.7v13.4h-2.7zM214.21 324.7h2.7v13.4h-2.7zM218.23 324.7h2.7v13.4h-2.7zM222.24 324.7h2.7v13.4h-2.7zM226.26 324.7h2.7v13.4h-2.7zM230.28 324.7h2.7v13.4h-2.7zM234.29 324.7h2.7v13.4h-2.7zM238.31 324.7h2.7v13.4h-2.7zM242.33 324.7h2.7v13.4h-2.7zM246.34 324.7h2.7v13.4h-2.7zM254.38 324.7h2.7v13.4h-2.7zM258.39 324.7h2.7v13.4h-2.7zM262.41 324.7h2.7v13.4h-2.7zM266.43 324.7h2.7v13.4h-2.7zM270.45 324.7h2.7v13.4h-2.7zM274.46 324.7h2.7v13.4h-2.7zM278.48 324.7h2.7v13.4h-2.7zM282.5 324.7h2.7v13.4h-2.7zM286.51 324.7h2.7v13.4h-2.7zM290.53 324.7h2.7v13.4h-2.7zM294.55 324.7h2.7v13.4h-2.7zM298.56 324.7h2.7v13.4h-2.7zM302.58 324.7h2.7v13.4h-2.7zM306.6 324.7h2.7v13.4h-2.7zM310.62 324.7h2.7v13.4h-2.7zM314.63 324.7h2.7v13.4h-2.7zM318.65 324.7h2.7v13.4h-2.7zM322.67 324.7h2.7v13.4h-2.7zM326.68 324.7h2.7v13.4h-2.7zM330.7 324.7h2.7v13.4h-2.7zM334.72 324.7h2.7v13.4h-2.7zM338.74 324.7h2.7v13.4h-2.7zM342.75 324.7h2.7v13.4h-2.7zM346.77 324.7h2.7v13.4h-2.7zM350.79 324.7h2.7v13.4h-2.7zM354.8 324.7h2.7v13.4h-2.7zM358.82 324.7h2.7v13.4h-2.7zM362.84 324.7h2.7v13.4h-2.7zM366.85 324.7h2.7v13.4h-2.7zM370.87 324.7h2.7v13.4h-2.7zM374.89 324.7h2.7v13.4h-2.7zM378.91 324.7h2.7v13.4h-2.7zM382.92 324.7h2.7v13.4h-2.7zM390.96 324.7h2.7v13.4h-2.7zM394.97 324.7h2.7v13.4h-2.7zM398.99 324.7h2.7v13.4h-2.7zM403.01 324.7h2.7v13.4h-2.7zM407.02 324.7h2.7v13.4h-2.7zM411.04 324.7h2.7v13.4h-2.7zM415.06 324.7h2.7v13.4h-2.7zM419.08 324.7h2.7v13.4h-2.7zM423.09 324.7h2.7v13.4h-2.7zM427.11 324.7h2.7v13.4h-2.7zM435.14 324.7h2.7v13.4h-2.7zM439.16 324.7h2.7v13.4h-2.7zM471.3 324.7h2.7v13.4h-2.7zM475.31 324.7h2.7v13.4h-2.7zM479.33 324.7h2.7v13.4h-2.7zM483.35 324.7h2.7v13.4h-2.7zM487.36 324.7h2.7v13.4h-2.7zM491.38 324.7h2.7v13.4h-2.7zM495.4 324.7h2.7v13.4h-2.7zM499.42 324.7h2.7v13.4h-2.7zM503.43 324.7h2.7v13.4h-2.7zM507.45 324.7h2.7v13.4h-2.7zM511.47 324.7h2.7v13.4h-2.7zM515.48 324.7h2.7v13.4h-2.7z"/>
<path fill="#c9a92a" d="M153.95 324.7h2.7v13.4h-2.7zM157.97 324.7h2.7v13.4h-2.7zM166 324.7h2.7v13.4h-2.7zM186.09 324.7h2.7v13.4h-2.7zM202.16 324.7h2.7v13.4h-2.7zM210.19 324.7h2.7v13.4h-2.7zM250.36 324.7h2.7v13.4h-2.7zM386.94 324.7h2.7v13.4h-2.7zM431.13 324.7h2.7v13.4h-2.7zM443.18 324.7h2.7v13.4h-2.7zM447.19 324.7h2.7v13.4h-2.7zM451.21 324.7h2.7v13.4h-2.7zM455.23 324.7h2.7v13.4h-2.7zM459.25 324.7h2.7v13.4h-2.7zM463.26 324.7h2.7v13.4h-2.7zM467.28 324.7h2.7v13.4h-2.7z"/>
<path fill="#e8e8e8" d="M121.82 339.74h2.7v13.4h-2.7zM125.83 339.74h2.7v13.4h-2.7zM129.85 339.74h2.7v13.4h-2.7zM133.87 339.74h2.7v13.4h-2.7zM137.88 339.74h2.7v13.4h-2.7zM141.9 339.74h2.7v13.4h-2.7zM145.92 339.74h2.7v13.4h-2.7zM149.94 339.74h2.7v13.4h-2.7zM153.95 339.74h2.7v13.4h-2.7zM157.97 339.74h2.7v13.4h-2.7zM161.99 339.74h2.7v13.4h-2.7zM166 339.74h2.7v13.4h-2.7zM178.06 339.74h2.7v13.4h-2.7zM182.07 339.74h2.7v13.4h-2.7zM186.09 339.74h2.7v13.4h-2.7zM190.11 339.74h2.7v13.4h-2.7zM194.12 339.74h2.7v13.4h-2.7zM198.14 339.74h2.7v13.4h-2.7zM202.16 339.74h2.7v13.4h-2.7zM206.17 339.74h2.7v13.4h-2.7zM210.19 339.74h2.7v13.4h-2.7zM214.21 339.74h2.7v13.4h-2.7zM218.23 339.74h2.7v13.4h-2.7zM222.24 339.74h2.7v13.4h-2.7zM226.26 339.74h2.7v13.4h-2.7zM230.28 339.74h2.7v13.4h-2.7zM234.29 339.74h2.7v13.4h-2.7zM238.31 339.74h2.7v13.4h-2.7zM242.33 339.74h2.7v13.4h-2.7zM246.34 339.74h2.7v13.4h-2.7zM250.36 339.74h2.7v13.4h-2.7zM254.38 339.74h2.7v13.4h-2.7zM258.39 339.74h2.7v13.4h-2.7zM266.43 339.74h2.7v13.4h-2.7zM270.45 339.74h2.7v13.4h-2.7zM274.46 339.74h2.7v13.4h-2.7zM278.48 339.74h2.7v13.4h-2.7zM282.5 339.74h2.7v13.4h-2.7zM286.51 339.74h2.7v13.4h-2.7zM290.53 339.74h2.7v13.4h-2.7zM294.55 339.74h2.7v13.4h-2.7zM298.56 339.74h2.7v13.4h-2.7zM302.58 339.74h2.7v13.4h-2.7zM306.6 339.74h2.7v13.4h-2.7zM310.62 339.74h2.7v13.4h-2.7zM314.63 339.74h2.7v13.4h-2.7zM318.65 339.74h2.7v13.4h-2.7zM322.67 339.74h2.7v13.4h-2.7zM330.7 339.74h2.7v13.4h-2.7zM334.72 339.74h2.7v13.4h-2.7zM338.74 339.74h2.7v13.4h-2.7zM342.75 339.74h2.7v13.4h-2.7zM346.77 339.74h2.7v13.4h-2.7zM350.79 339.74h2.7v13.4h-2.7zM354.8 339.74h2.7v13.4h-2.7zM358.82 339.74h2.7v13.4h-2.7zM362.84 339.74h2.7v13.4h-2.7zM366.85 339.74h2.7v13.4h-2.7zM370.87 339.74h2.7v13.4h-2.7zM374.89 339.74h2.7v13.4h-2.7zM378.91 339.74h2.7v13.4h-2.7zM382.92 339.74h2.7v13.4h-2.7zM386.94 339.74h2.7v13.4h-2.7zM390.96 339.74h2.7v13.4h-2.7zM394.97 339.74h2.7v13.4h-2.7zM398.99 339.74h2.7v13.4h-2.7zM403.01 339.74h2.7v13.4h-2.7zM407.02 339.74h2.7v13.4h-2.7zM411.04 339.74h2.7v13.4h-2.7zM415.06 339.74h2.7v13.4h-2.7zM419.08 339.74h2.7v13.4h-2.7zM423.09 339.74h2.7v13.4h-2.7zM427.11 339.74h2.7v13.4h-2.7zM431.13 339.74h2.7v13.4h-2.7zM435.14 339.74h2.7v13.4h-2.7zM439.16 339.74h2.7v13.4h-2.7zM443.18 339.74h2.7v13.4h-2.7zM447.19 339.74h2.7v13.4h-2.7zM451.21 339.74h2.7v13.4h-2.7zM455.23 339.74h2.7v13.4h-2.7zM459.25 339.74h2.7v13.4h-2.7zM463.26 339.74h2.7v13.4h-2.7zM467.28 339.74h2.7v13.4h-2.7zM471.3 339.74h2.7v13.4h-2.7zM475.31 339.74h2.7v13.4h-2.7zM479.33 339.74h2.7v13.4h-2.7zM483.35 339.74h2.7v13.4h-2.7zM487.36 339.74h2.7v13.4h-2.7zM491.38 339.74h2.7v13.4h-2.7zM495.4 339.74h2.7v13.4h-2.7zM499.42 339.74h2.7v13.4h-2.7zM503.43 339.74h2.7v13.4h-2.7zM507.45 339.74h2.7v13.4h-2.7zM511.47 339.74h2.7v13.4h-2.7zM515.48 339.74h2.7v13.4h-2.7z"/>
<path fill="#c9a92a" d="M117.8 339.74h2.7v13.4h-2.7zM170.02 339.74h2.7v13.4h-2.7zM174.04 339.74h2.7v13.4h-2.7zM262.41 339.74h2.7v13.4h-2.7zM326.68 339.74h2.7v13.4h-2.7z"/>
<path fill="#dadada" d="M117.8 354.78h2.7v13.4h-2.7zM121.82 354.78h2.7v13.4h-2.7zM129.85 354.78h2.7v13.4h-2.7zM133.87 354.78h2.7v13.4h-2.7zM137.88 354.78h2.7v13.4h-2.7zM145.92 354.78h2.7v13.4h-2.7zM149.94 354.78h2.7v13.4h-2.7zM153.95 354.78h2.7v13.4h-2.7zM157.97 354.78h2.7v13.4h-2.7zM161.99 354.78h2.7v13.4h-2.7zM170.02 354.78h2.7v13.4h-2.7zM174.04 354.78h2.7v13.4h-2.7zM178.06 354.78h2.7v13.4h-2.7zM182.07 354.78h2.7v13.4h-2.7zM186.09 354.78h2.7v13.4h-2.7zM194.12 354.78h2.7v13.4h-2.7zM202.16 354.78h2.7v13.4h-2.7zM206.17 354.78h2.7v13.4h-2.7zM210.19 354.78h2.7v13.4h-2.7zM214.21 354.78h2.7v13.4h-2.7zM218.23 354.78h2.7v13.4h-2.7zM222.24 354.78h2.7v13.4h-2.7zM226.26 354.78h2.7v13.4h-2.7zM230.28 354.78h2.7v13.4h-2.7zM234.29 354.78h2.7v13.4h-2.7zM238.31 354.78h2.7v13.4h-2.7zM242.33 354.78h2.7v13.4h-2.7zM246.34 354.78h2.7v13.4h-2.7zM250.36 354.78h2.7v13.4h-2.7zM254.38 354.78h2.7v13.4h-2.7zM262.41 354.78h2.7v13.4h-2.7zM266.43 354.78h2.7v13.4h-2.7zM270.45 354.78h2.7v13.4h-2.7zM274.46 354.78h2.7v13.4h-2.7zM278.48 354.78h2.7v13.4h-2.7zM282.5 354.78h2.7v13.4h-2.7zM298.56 354.78h2.7v13.4h-2.7zM302.58 354.78h2.7v13.4h-2.7zM306.6 354.78h2.7v13.4h-2.7zM310.62 354.78h2.7v13.4h-2.7zM314.63 354.78h2.7v13.4h-2.7zM318.65 354.78h2.7v13.4h-2.7zM322.67 354.78h2.7v13.4h-2.7zM326.68 354.78h2.7v13.4h-2.7zM330.7 354.78h2.7v13.4h-2.7zM334.72 354.78h2.7v13.4h-2.7zM338.74 354.78h2.7v13.4h-2.7zM342.75 354.78h2.7v13.4h-2.7zM346.77 354.78h2.7v13.4h-2.7zM350.79 354.78h2.7v13.4h-2.7zM358.82 354.78h2.7v13.4h-2.7zM362.84 354.78h2.7v13.4h-2.7zM378.91 354.78h2.7v13.4h-2.7zM382.92 354.78h2.7v13.4h-2.7zM386.94 354.78h2.7v13.4h-2.7zM390.96 354.78h2.7v13.4h-2.7zM394.97 354.78h2.7v13.4h-2.7zM398.99 354.78h2.7v13.4h-2.7zM403.01 354.78h2.7v13.4h-2.7zM407.02 354.78h2.7v13.4h-2.7zM411.04 354.78h2.7v13.4h-2.7zM415.06 354.78h2.7v13.4h-2.7zM419.08 354.78h2.7v13.4h-2.7zM423.09 354.78h2.7v13.4h-2.7zM427.11 354.78h2.7v13.4h-2.7zM431.13 354.78h2.7v13.4h-2.7zM435.14 354.78h2.7v13.4h-2.7zM439.16 354.78h2.7v13.4h-2.7zM443.18 354.78h2.7v13.4h-2.7zM467.28 354.78h2.7v13.4h-2.7zM479.33 354.78h2.7v13.4h-2.7zM483.35 354.78h2.7v13.4h-2.7zM487.36 354.78h2.7v13.4h-2.7zM491.38 354.78h2.7v13.4h-2.7zM495.4 354.78h2.7v13.4h-2.7zM499.42 354.78h2.7v13.4h-2.7zM503.43 354.78h2.7v13.4h-2.7zM507.45 354.78h2.7v13.4h-2.7zM511.47 354.78h2.7v13.4h-2.7zM515.48 354.78h2.7v13.4h-2.7z"/>
<path fill="#c9a92a" d="M125.83 354.78h2.7v13.4h-2.7zM141.9 354.78h2.7v13.4h-2.7zM166 354.78h2.7v13.4h-2.7zM190.11 354.78h2.7v13.4h-2.7zM198.14 354.78h2.7v13.4h-2.7zM258.39 354.78h2.7v13.4h-2.7zM286.51 354.78h2.7v13.4h-2.7zM290.53 354.78h2.7v13.4h-2.7zM294.55 354.78h2.7v13.4h-2.7zM354.8 354.78h2.7v13.4h-2.7zM366.85 354.78h2.7v13.4h-2.7zM370.87 354.78h2.7v13.4h-2.7zM374.89 354.78h2.7v13.4h-2.7zM447.19 354.78h2.7v13.4h-2.7zM451.21 354.78h2.7v13.4h-2.7zM455.23 354.78h2.7v13.4h-2.7zM459.25 354.78h2.7v13.4h-2.7zM463.26 354.78h2.7v13.4h-2.7zM471.3 354.78h2.7v13.4h-2.7zM475.31 354.78h2.7v13.4h-2.7z"/>
<path fill="#dadada" d="M117.8 369.82h2.7v13.4h-2.7zM121.82 369.82h2.7v13.4h-2.7zM125.83 369.82h2.7v13.4h-2.7zM129.85 369.82h2.7v13.4h-2.7zM137.88 369.82h2.7v13.4h-2.7zM141.9 369.82h2.7v13.4h-2.7zM145.92 369.82h2.7v13.4h-2.7zM149.94 369.82h2.7v13.4h-2.7zM153.95 369.82h2.7v13.4h-2.7zM157.97 369.82h2.7v13.4h-2.7zM161.99 369.82h2.7v13.4h-2.7zM166 369.82h2.7v13.4h-2.7zM170.02 369.82h2.7v13.4h-2.7zM174.04 369.82h2.7v13.4h-2.7zM178.06 369.82h2.7v13.4h-2.7zM182.07 369.82h2.7v13.4h-2.7zM186.09 369.82h2.7v13.4h-2.7zM190.11 369.82h2.7v13.4h-2.7zM194.12 369.82h2.7v13.4h-2.7zM198.14 369.82h2.7v13.4h-2.7zM202.16 369.82h2.7v13.4h-2.7zM206.17 369.82h2.7v13.4h-2.7zM210.19 369.82h2.7v13.4h-2.7zM226.26 369.82h2.7v13.4h-2.7zM238.31 369.82h2.7v13.4h-2.7zM242.33 369.82h2.7v13.4h-2.7zM246.34 369.82h2.7v13.4h-2.7zM250.36 369.82h2.7v13.4h-2.7zM254.38 369.82h2.7v13.4h-2.7zM258.39 369.82h2.7v13.4h-2.7zM262.41 369.82h2.7v13.4h-2.7zM266.43 369.82h2.7v13.4h-2.7zM270.45 369.82h2.7v13.4h-2.7zM274.46 369.82h2.7v13.4h-2.7zM278.48 369.82h2.7v13.4h-2.7zM282.5 369.82h2.7v13.4h-2.7zM286.51 369.82h2.7v13.4h-2.7zM290.53 369.82h2.7v13.4h-2.7zM294.55 369.82h2.7v13.4h-2.7zM306.6 369.82h2.7v13.4h-2.7zM310.62 369.82h2.7v13.4h-2.7zM314.63 369.82h2.7v13.4h-2.7zM318.65 369.82h2.7v13.4h-2.7zM322.67 369.82h2.7v13.4h-2.7zM326.68 369.82h2.7v13.4h-2.7zM330.7 369.82h2.7v13.4h-2.7zM334.72 369.82h2.7v13.4h-2.7zM338.74 369.82h2.7v13.4h-2.7zM342.75 369.82h2.7v13.4h-2.7zM346.77 369.82h2.7v13.4h-2.7zM350.79 369.82h2.7v13.4h-2.7zM354.8 369.82h2.7v13.4h-2.7zM358.82 369.82h2.7v13.4h-2.7zM366.85 369.82h2.7v13.4h-2.7zM370.87 369.82h2.7v13.4h-2.7zM374.89 369.82h2.7v13.4h-2.7zM378.91 369.82h2.7v13.4h-2.7zM382.92 369.82h2.7v13.4h-2.7zM386.94 369.82h2.7v13.4h-2.7zM390.96 369.82h2.7v13.4h-2.7zM394.97 369.82h2.7v13.4h-2.7zM398.99 369.82h2.7v13.4h-2.7zM403.01 369.82h2.7v13.4h-2.7zM407.02 369.82h2.7v13.4h-2.7zM411.04 369.82h2.7v13.4h-2.7zM415.06 369.82h2.7v13.4h-2.7zM419.08 369.82h2.7v13.4h-2.7zM423.09 369.82h2.7v13.4h-2.7zM427.11 369.82h2.7v13.4h-2.7zM431.13 369.82h2.7v13.4h-2.7zM435.14 369.82h2.7v13.4h-2.7zM439.16 369.82h2.7v13.4h-2.7zM447.19 369.82h2.7v13.4h-2.7zM451.21 369.82h2.7v13.4h-2.7zM455.23 369.82h2.7v13.4h-2.7zM459.25 369.82h2.7v13.4h-2.7zM463.26 369.82h2.7v13.4h-2.7zM467.28 369.82h2.7v13.4h-2.7zM471.3 369.82h2.7v13.4h-2.7zM475.31 369.82h2.7v13.4h-2.7zM479.33 369.82h2.7v13.4h-2.7zM483.35 369.82h2.7v13.4h-2.7zM487.36 369.82h2.7v13.4h-2.7zM491.38 369.82h2.7v13.4h-2.7zM495.4 369.82h2.7v13.4h-2.7zM499.42 369.82h2.7v13.4h-2.7zM503.43 369.82h2.7v13.4h-2.7zM507.45 369.82h2.7v13.4h-2.7zM511.47 369.82h2.7v13.4h-2.7zM515.48 369.82h2.7v13.4h-2.7z"/>
<path fill="#c9a92a" d="M133.87 369.82h2.7v13.4h-2.7zM214.21 369.82h2.7v13.4h-2.7zM218.23 369.82h2.7v13.4h-2.7zM222.24 369.82h2.7v13.4h-2.7zM230.28 369.82h2.7v13.4h-2.7zM234.29 369.82h2.7v13.4h-2.7zM298.56 369.82h2.7v13.4h-2.7zM302.58 369.82h2.7v13.4h-2.7zM362.84 369.82h2.7v13.4h-2.7zM443.18 369.82h2.7v13.4h-2.7z"/>
<path fill="#dadada" d="M117.8 384.86h2.7v13.4h-2.7zM121.82 384.86h2.7v13.4h-2.7zM133.87 384.86h2.7v13.4h-2.7zM137.88 384.86h2.7v13.4h-2.7zM149.94 384.86h2.7v13.4h-2.7zM157.97 384.86h2.7v13.4h-2.7zM166 384.86h2.7v13.4h-2.7zM178.06 384.86h2.7v13.4h-2.7zM182.07 384.86h2.7v13.4h-2.7zM186.09 384.86h2.7v13.4h-2.7zM198.14 384.86h2.7v13.4h-2.7zM202.16 384.86h2.7v13.4h-2.7zM206.17 384.86h2.7v13.4h-2.7zM210.19 384.86h2.7v13.4h-2.7zM214.21 384.86h2.7v13.4h-2.7zM218.23 384.86h2.7v13.4h-2.7zM222.24 384.86h2.7v13.4h-2.7zM226.26 384.86h2.7v13.4h-2.7zM230.28 384.86h2.7v13.4h-2.7zM234.29 384.86h2.7v13.4h-2.7zM246.34 384.86h2.7v13.4h-2.7zM250.36 384.86h2.7v13.4h-2.7zM254.38 384.86h2.7v13.4h-2.7zM258.39 384.86h2.7v13.4h-2.7zM262.41 384.86h2.7v13.4h-2.7zM266.43 384.86h2.7v13.4h-2.7zM270.45 384.86h2.7v13.4h-2.7zM274.46 384.86h2.7v13.4h-2.7zM278.48 384.86h2.7v13.4h-2.7zM282.5 384.86h2.7v13.4h-2.7zM294.55 384.86h2.7v13.4h-2.7zM298.56 384.86h2.7v13.4h-2.7zM302.58 384.86h2.7v13.4h-2.7zM306.6 384.86h2.7v13.4h-2.7zM310.62 384.86h2.7v13.4h-2.7zM314.63 384.86h2.7v13.4h-2.7zM318.65 384.86h2.7v13.4h-2.7zM322.67 384.86h2.7v13.4h-2.7zM326.68 384.86h2.7v13.4h-2.7zM330.7 384.86h2.7v13.4h-2.7zM334.72 384.86h2.7v13.4h-2.7zM338.74 384.86h2.7v13.4h-2.7zM342.75 384.86h2.7v13.4h-2.7zM346.77 384.86h2.7v13.4h-2.7zM350.79 384.86h2.7v13.4h-2.7zM362.84 384.86h2.7v13.4h-2.7zM366.85 384.86h2.7v13.4h-2.7zM370.87 384.86h2.7v13.4h-2.7zM374.89 384.86h2.7v13.4h-2.7zM378.91 384.86h2.7v13.4h-2.7zM382.92 384.86h2.7v13.4h-2.7zM386.94 384.86h2.7v13.4h-2.7zM390.96 384.86h2.7v13.4h-2.7zM394.97 384.86h2.7v13.4h-2.7zM398.99 384.86h2.7v13.4h-2.7zM403.01 384.86h2.7v13.4h-2.7zM407.02 384.86h2.7v13.4h-2.7zM411.04 384.86h2.7v13.4h-2.7zM415.06 384.86h2.7v13.4h-2.7zM419.08 384.86h2.7v13.4h-2.7zM423.09 384.86h2.7v13.4h-2.7zM427.11 384.86h2.7v13.4h-2.7zM431.13 384.86h2.7v13.4h-2.7zM439.16 384.86h2.7v13.4h-2.7zM443.18 384.86h2.7v13.4h-2.7zM447.19 384.86h2.7v13.4h-2.7zM451.21 384.86h2.7v13.4h-2.7zM455.23 384.86h2.7v13.4h-2.7zM459.25 384.86h2.7v13.4h-2.7zM487.36 384.86h2.7v13.4h-2.7zM491.38 384.86h2.7v13.4h-2.7zM495.4 384.86h2.7v13.4h-2.7zM499.42 384.86h2.7v13.4h-2.7zM503.43 384.86h2.7v13.4h-2.7zM507.45 384.86h2.7v13.4h-2.7zM511.47 384.86h2.7v13.4h-2.7zM515.48 384.86h2.7v13.4h-2.7z"/>
<path fill="#c9a92a" d="M125.83 384.86h2.7v13.4h-2.7zM129.85 384.86h2.7v13.4h-2.7zM141.9 384.86h2.7v13.4h-2.7zM145.92 384.86h2.7v13.4h-2.7zM153.95 384.86h2.7v13.4h-2.7zM161.99 384.86h2.7v13.4h-2.7zM170.02 384.86h2.7v13.4h-2.7zM174.04 384.86h2.7v13.4h-2.7zM190.11 384.86h2.7v13.4h-2.7zM194.12 384.86h2.7v13.4h-2.7zM238.31 384.86h2.7v13.4h-2.7zM242.33 384.86h2.7v13.4h-2.7zM286.51 384.86h2.7v13.4h-2.7zM290.53 384.86h2.7v13.4h-2.7zM354.8 384.86h2.7v13.4h-2.7zM358.82 384.86h2.7v13.4h-2.7zM435.14 384.86h2.7v13.4h-2.7zM463.26 384.86h2.7v13.4h-2.7zM467.28 384.86h2.7v13.4h-2.7zM471.3 384.86h2.7v13.4h-2.7zM475.31 384.86h2.7v13.4h-2.7zM479.33 384.86h2.7v13.4h-2.7zM483.35 384.86h2.7v13.4h-2.7z"/>
<path fill="#e8e8e8" d="M117.8 399.9h2.7v13.4h-2.7zM125.83 399.9h2.7v13.4h-2.7zM141.9 399.9h2.7v13.4h-2.7zM145.92 399.9h2.7v13.4h-2.7zM149.94 399.9h2.7v13.4h-2.7zM153.95 399.9h2.7v13.4h-2.7zM157.97 399.9h2.7v13.4h-2.7zM161.99 399.9h2.7v13.4h-2.7zM166 399.9h2.7v13.4h-2.7zM170.02 399.9h2.7v13.4h-2.7zM174.04 399.9h2.7v13.4h-2.7zM178.06 399.9h2.7v13.4h-2.7zM182.07 399.9h2.7v13.4h-2.7zM186.09 399.9h2.7v13.4h-2.7zM190.11 399.9h2.7v13.4h-2.7zM194.12 399.9h2.7v13.4h-2.7zM198.14 399.9h2.7v13.4h-2.7zM202.16 399.9h2.7v13.4h-2.7zM206.17 399.9h2.7v13.4h-2.7zM210.19 399.9h2.7v13.4h-2.7zM214.21 399.9h2.7v13.4h-2.7zM218.23 399.9h2.7v13.4h-2.7zM222.24 399.9h2.7v13.4h-2.7zM230.28 399.9h2.7v13.4h-2.7zM234.29 399.9h2.7v13.4h-2.7zM238.31 399.9h2.7v13.4h-2.7zM242.33 399.9h2.7v13.4h-2.7zM246.34 399.9h2.7v13.4h-2.7zM250.36 399.9h2.7v13.4h-2.7zM254.38 399.9h2.7v13.4h-2.7zM258.39 399.9h2.7v13.4h-2.7zM262.41 399.9h2.7v13.4h-2.7zM266.43 399.9h2.7v13.4h-2.7zM270.45 399.9h2.7v13.4h-2.7zM274.46 399.9h2.7v13.4h-2.7zM278.48 399.9h2.7v13.4h-2.7zM282.5 399.9h2.7v13.4h-2.7zM286.51 399.9h2.7v13.4h-2.7zM290.53 399.9h2.7v13.4h-2.7zM294.55 399.9h2.7v13.4h-2.7zM298.56 399.9h2.7v13.4h-2.7zM302.58 399.9h2.7v13.4h-2.7zM306.6 399.9h2.7v13.4h-2.7zM310.62 399.9h2.7v13.4h-2.7zM314.63 399.9h2.7v13.4h-2.7zM318.65 399.9h2.7v13.4h-2.7zM322.67 399.9h2.7v13.4h-2.7zM326.68 399.9h2.7v13.4h-2.7zM330.7 399.9h2.7v13.4h-2.7zM334.72 399.9h2.7v13.4h-2.7zM338.74 399.9h2.7v13.4h-2.7zM342.75 399.9h2.7v13.4h-2.7zM346.77 399.9h2.7v13.4h-2.7zM350.79 399.9h2.7v13.4h-2.7zM354.8 399.9h2.7v13.4h-2.7zM358.82 399.9h2.7v13.4h-2.7zM362.84 399.9h2.7v13.4h-2.7zM366.85 399.9h2.7v13.4h-2.7zM370.87 399.9h2.7v13.4h-2.7zM374.89 399.9h2.7v13.4h-2.7zM378.91 399.9h2.7v13.4h-2.7zM382.92 399.9h2.7v13.4h-2.7zM386.94 399.9h2.7v13.4h-2.7zM390.96 399.9h2.7v13.4h-2.7zM394.97 399.9h2.7v13.4h-2.7zM398.99 399.9h2.7v13.4h-2.7zM403.01 399.9h2.7v13.4h-2.7zM407.02 399.9h2.7v13.4h-2.7zM411.04 399.9h2.7v13.4h-2.7zM419.08 399.9h2.7v13.4h-2.7zM423.09 399.9h2.7v13.4h-2.7zM427.11 399.9h2.7v13.4h-2.7zM431.13 399.9h2.7v13.4h-2.7zM435.14 399.9h2.7v13.4h-2.7zM439.16 399.9h2.7v13.4h-2.7zM443.18 399.9h2.7v13.4h-2.7zM447.19 399.9h2.7v13.4h-2.7zM451.21 399.9h2.7v13.4h-2.7zM455.23 399.9h2.7v13.4h-2.7zM459.25 399.9h2.7v13.4h-2.7zM463.26 399.9h2.7v13.4h-2.7zM467.28 399.9h2.7v13.4h-2.7zM471.3 399.9h2.7v13.4h-2.7zM475.31 399.9h2.7v13.4h-2.7zM479.33 399.9h2.7v13.4h-2.7zM483.35 399.9h2.7v13.4h-2.7zM487.36 399.9h2.7v13.4h-2.7zM491.38 399.9h2.7v13.4h-2.7zM495.4 399.9h2.7v13.4h-2.7zM499.42 399.9h2.7v13.4h-2.7zM503.43 399.9h2.7v13.4h-2.7zM507.45 399.9h2.7v13.4h-2.7zM511.47 399.9h2.7v13.4h-2.7zM515.48 399.9h2.7v13.4h-2.7z"/>
<path fill="#c9a92a" d="M121.82 399.9h2.7v13.4h-2.7zM129.85 399.9h2.7v13.4h-2.7zM133.87 399.9h2.7v13.4h-2.7zM137.88 399.9h2.7v13.4h-2.7zM226.26 399.9h2.7v13.4h-2.7zM415.06 399.9h2.7v13.4h-2.7z"/>
<path fill="#dadada" d="M117.8 414.94h2.7v13.4h-2.7zM121.82 414.94h2.7v13.4h-2.7zM125.83 414.94h2.7v13.4h-2.7zM129.85 414.94h2.7v13.4h-2.7zM133.87 414.94h2.7v13.4h-2.7zM137.88 414.94h2.7v13.4h-2.7zM141.9 414.94h2.7v13.4h-2.7zM145.92 414.94h2.7v13.4h-2.7zM149.94 414.94h2.7v13.4h-2.7zM153.95 414.94h2.7v13.4h-2.7zM157.97 414.94h2.7v13.4h-2.7zM161.99 414.94h2.7v13.4h-2.7zM166 414.94h2.7v13.4h-2.7zM170.02 414.94h2.7v13.4h-2.7zM174.04 414.94h2.7v13.4h-2.7zM178.06 414.94h2.7v13.4h-2.7zM182.07 414.94h2.7v13.4h-2.7zM186.09 414.94h2.7v13.4h-2.7zM190.11 414.94h2.7v13.4h-2.7zM194.12 414.94h2.7v13.4h-2.7zM198.14 414.94h2.7v13.4h-2.7zM202.16 414.94h2.7v13.4h-2.7zM206.17 414.94h2.7v13.4h-2.7zM210.19 414.94h2.7v13.4h-2.7zM214.21 414.94h2.7v13.4h-2.7zM218.23 414.94h2.7v13.4h-2.7zM222.24 414.94h2.7v13.4h-2.7zM226.26 414.94h2.7v13.4h-2.7zM230.28 414.94h2.7v13.4h-2.7zM234.29 414.94h2.7v13.4h-2.7zM238.31 414.94h2.7v13.4h-2.7zM242.33 414.94h2.7v13.4h-2.7zM246.34 414.94h2.7v13.4h-2.7zM250.36 414.94h2.7v13.4h-2.7zM254.38 414.94h2.7v13.4h-2.7zM258.39 414.94h2.7v13.4h-2.7zM262.41 414.94h2.7v13.4h-2.7zM266.43 414.94h2.7v13.4h-2.7zM270.45 414.94h2.7v13.4h-2.7zM274.46 414.94h2.7v13.4h-2.7zM278.48 414.94h2.7v13.4h-2.7zM282.5 414.94h2.7v13.4h-2.7zM286.51 414.94h2.7v13.4h-2.7zM290.53 414.94h2.7v13.4h-2.7zM294.55 414.94h2.7v13.4h-2.7zM298.56 414.94h2.7v13.4h-2.7zM302.58 414.94h2.7v13.4h-2.7zM306.6 414.94h2.7v13.4h-2.7zM310.62 414.94h2.7v13.4h-2.7zM314.63 414.94h2.7v13.4h-2.7zM318.65 414.94h2.7v13.4h-2.7zM322.67 414.94h2.7v13.4h-2.7zM326.68 414.94h2.7v13.4h-2.7zM330.7 414.94h2.7v13.4h-2.7zM334.72 414.94h2.7v13.4h-2.7zM338.74 414.94h2.7v13.4h-2.7zM342.75 414.94h2.7v13.4h-2.7zM346.77 414.94h2.7v13.4h-2.7zM350.79 414.94h2.7v13.4h-2.7zM354.8 414.94h2.7v13.4h-2.7zM358.82 414.94h2.7v13.4h-2.7zM362.84 414.94h2.7v13.4h-2.7zM366.85 414.94h2.7v13.4h-2.7zM370.87 414.94h2.7v13.4h-2.7zM374.89 414.94h2.7v13.4h-2.7zM378.91 414.94h2.7v13.4h-2.7zM382.92 414.94h2.7v13.4h-2.7zM390.96 414.94h2.7v13.4h-2.7zM394.97 414.94h2.7v13.4h-2.7zM398.99 414.94h2.7v13.4h-2.7zM403.01 414.94h2.7v13.4h-2.7zM407.02 414.94h2.7v13.4h-2.7zM411.04 414.94h2.7v13.4h-2.7zM415.06 414.94h2.7v13.4h-2.7zM419.08 414.94h2.7v13.4h-2.7zM423.09 414.94h2.7v13.4h-2.7zM427.11 414.94h2.7v13.4h-2.7zM431.13 414.94h2.7v13.4h-2.7zM435.14 414.94h2.7v13.4h-2.7zM439.16 414.94h2.7v13.4h-2.7zM443.18 414.94h2.7v13.4h-2.7zM447.19 414.94h2.7v13.4h-2.7zM451.21 414.94h2.7v13.4h-2.7zM455.23 414.94h2.7v13.4h-2.7zM459.25 414.94h2.7v13.4h-2.7zM463.26 414.94h2.7v13.4h-2.7zM467.28 414.94h2.7v13.4h-2.7zM471.3 414.94h2.7v13.4h-2.7zM475.31 414.94h2.7v13.4h-2.7zM479.33 414.94h2.7v13.4h-2.7zM483.35 414.94h2.7v13.4h-2.7zM487.36 414.94h2.7v13.4h-2.7zM491.38 414.94h2.7v13.4h-2.7zM495.4 414.94h2.7v13.4h-2.7zM499.42 414.94h2.7v13.4h-2.7zM503.43 414.94h2.7v13.4h-2.7zM507.45 414.94h2.7v13.4h-2.7zM511.47 414.94h2.7v13.4h-2.7zM515.48 414.94h2.7v13.4h-2.7z"/>
<path fill="#c9a92a" d="M386.94 414.94h2.7v13.4h-2.7z"/>
<path fill="#dadada" d="M121.82 429.98h2.7v13.4h-2.7zM125.83 429.98h2.7v13.4h-2.7zM129.85 429.98h2.7v13.4h-2.7zM133.87 429.98h2.7v13.4h-2.7zM137.88 429.98h2.7v13.4h-2.7zM141.9 429.98h2.7v13.4h-2.7zM145.92 429.98h2.7v13.4h-2.7zM149.94 429.98h2.7v13.4h-2.7zM153.95 429.98h2.7v13.4h-2.7zM157.97 429.98h2.7v13.4h-2.7zM161.99 429.98h2.7v13.4h-2.7zM166 429.98h2.7v13.4h-2.7zM170.02 429.98h2.7v13.4h-2.7zM174.04 429.98h2.7v13.4h-2.7zM178.06 429.98h2.7v13.4h-2.7zM182.07 429.98h2.7v13.4h-2.7zM186.09 429.98h2.7v13.4h-2.7zM190.11 429.98h2.7v13.4h-2.7zM194.12 429.98h2.7v13.4h-2.7zM198.14 429.98h2.7v13.4h-2.7zM202.16 429.98h2.7v13.4h-2.7zM206.17 429.98h2.7v13.4h-2.7zM210.19 429.98h2.7v13.4h-2.7zM214.21 429.98h2.7v13.4h-2.7zM218.23 429.98h2.7v13.4h-2.7zM222.24 429.98h2.7v13.4h-2.7zM226.26 429.98h2.7v13.4h-2.7zM230.28 429.98h2.7v13.4h-2.7zM234.29 429.98h2.7v13.4h-2.7zM238.31 429.98h2.7v13.4h-2.7zM242.33 429.98h2.7v13.4h-2.7zM246.34 429.98h2.7v13.4h-2.7zM250.36 429.98h2.7v13.4h-2.7zM254.38 429.98h2.7v13.4h-2.7zM262.41 429.98h2.7v13.4h-2.7zM266.43 429.98h2.7v13.4h-2.7zM270.45 429.98h2.7v13.4h-2.7zM274.46 429.98h2.7v13.4h-2.7zM278.48 429.98h2.7v13.4h-2.7zM282.5 429.98h2.7v13.4h-2.7zM286.51 429.98h2.7v13.4h-2.7zM290.53 429.98h2.7v13.4h-2.7zM294.55 429.98h2.7v13.4h-2.7zM298.56 429.98h2.7v13.4h-2.7zM302.58 429.98h2.7v13.4h-2.7zM306.6 429.98h2.7v13.4h-2.7zM310.62 429.98h2.7v13.4h-2.7zM314.63 429.98h2.7v13.4h-2.7zM318.65 429.98h2.7v13.4h-2.7zM322.67 429.98h2.7v13.4h-2.7zM326.68 429.98h2.7v13.4h-2.7zM330.7 429.98h2.7v13.4h-2.7zM334.72 429.98h2.7v13.4h-2.7zM338.74 429.98h2.7v13.4h-2.7zM342.75 429.98h2.7v13.4h-2.7zM346.77 429.98h2.7v13.4h-2.7zM350.79 429.98h2.7v13.4h-2.7zM354.8 429.98h2.7v13.4h-2.7zM362.84 429.98h2.7v13.4h-2.7zM366.85 429.98h2.7v13.4h-2.7zM370.87 429.98h2.7v13.4h-2.7zM374.89 429.98h2.7v13.4h-2.7zM378.91 429.98h2.7v13.4h-2.7zM382.92 429.98h2.7v13.4h-2.7zM386.94 429.98h2.7v13.4h-2.7zM390.96 429.98h2.7v13.4h-2.7zM394.97 429.98h2.7v13.4h-2.7zM398.99 429.98h2.7v13.4h-2.7zM403.01 429.98h2.7v13.4h-2.7zM407.02 429.98h2.7v13.4h-2.7zM411.04 429.98h2.7v13.4h-2.7zM419.08 429.98h2.7v13.4h-2.7zM423.09 429.98h2.7v13.4h-2.7zM427.11 429.98h2.7v13.4h-2.7zM431.13 429.98h2.7v13.4h-2.7zM439.16 429.98h2.7v13.4h-2.7zM443.18 429.98h2.7v13.4h-2.7zM447.19 429.98h2.7v13.4h-2.7zM451.21 429.98h2.7v13.4h-2.7zM455.23 429.98h2.7v13.4h-2.7zM459.25 429.98h2.7v13.4h-2.7zM463.26 429.98h2.7v13.4h-2.7zM467.28 429.98h2.7v13.4h-2.7zM471.3 429.98h2.7v13.4h-2.7zM475.31 429.98h2.7v13.4h-2.7zM479.33 429.98h2.7v13.4h-2.7zM483.35 429.98h2.7v13.4h-2.7zM487.36 429.98h2.7v13.4h-2.7zM491.38 429.98h2.7v13.4h-2.7zM495.4 429.98h2.7v13.4h-2.7zM499.42 429.98h2.7v13.4h-2.7zM503.43 429.98h2.7v13.4h-2.7zM507.45 429.98h2.7v13.4h-2.7zM511.47 429.98h2.7v13.4h-2.7zM515.48 429.98h2.7v13.4h-2.7z"/>
<path fill="#c9a92a" d="M117.8 429.98h2.7v13.4h-2.7zM258.39 429.98h2.7v13.4h-2.7zM358.82 429.98h2.7v13.4h-2.7zM415.06 429.98h2.7v13.4h-2.7zM435.14 429.98h2.7v13.4h-2.7z"/>
<path fill="#e8e8e8" d="M117.8 445.02h2.7v13.4h-2.7zM121.82 445.02h2.7v13.4h-2.7zM125.83 445.02h2.7v13.4h-2.7zM129.85 445.02h2.7v13.4h-2.7zM133.87 445.02h2.7v13.4h-2.7zM137.88 445.02h2.7v13.4h-2.7zM141.9 445.02h2.7v13.4h-2.7zM145.92 445.02h2.7v13.4h-2.7zM149.94 445.02h2.7v13.4h-2.7zM153.95 445.02h2.7v13.4h-2.7zM157.97 445.02h2.7v13.4h-2.7zM161.99 445.02h2.7v13.4h-2.7zM166 445.02h2.7v13.4h-2.7zM170.02 445.02h2.7v13.4h-2.7zM174.04 445.02h2.7v13.4h-2.7zM178.06 445.02h2.7v13.4h-2.7zM182.07 445.02h2.7v13.4h-2.7zM186.09 445.02h2.7v13.4h-2.7zM190.11 445.02h2.7v13.4h-2.7zM194.12 445.02h2.7v13.4h-2.7zM198.14 445.02h2.7v13.4h-2.7zM202.16 445.02h2.7v13.4h-2.7zM206.17 445.02h2.7v13.4h-2.7zM210.19 445.02h2.7v13.4h-2.7zM214.21 445.02h2.7v13.4h-2.7zM218.23 445.02h2.7v13.4h-2.7zM222.24 445.02h2.7v13.4h-2.7zM226.26 445.02h2.7v13.4h-2.7zM230.28 445.02h2.7v13.4h-2.7zM234.29 445.02h2.7v13.4h-2.7zM238.31 445.02h2.7v13.4h-2.7zM242.33 445.02h2.7v13.4h-2.7zM246.34 445.02h2.7v13.4h-2.7zM250.36 445.02h2.7v13.4h-2.7zM254.38 445.02h2.7v13.4h-2.7zM258.39 445.02h2.7v13.4h-2.7zM262.41 445.02h2.7v13.4h-2.7zM354.8 445.02h2.7v13.4h-2.7zM358.82 445.02h2.7v13.4h-2.7zM362.84 445.02h2.7v13.4h-2.7zM366.85 445.02h2.7v13.4h-2.7zM370.87 445.02h2.7v13.4h-2.7zM374.89 445.02h2.7v13.4h-2.7zM378.91 445.02h2.7v13.4h-2.7zM382.92 445.02h2.7v13.4h-2.7zM386.94 445.02h2.7v13.4h-2.7zM390.96 445.02h2.7v13.4h-2.7zM394.97 445.02h2.7v13.4h-2.7zM398.99 445.02h2.7v13.4h-2.7zM403.01 445.02h2.7v13.4h-2.7zM407.02 445.02h2.7v13.4h-2.7zM411.04 445.02h2.7v13.4h-2.7zM415.06 445.02h2.7v13.4h-2.7zM419.08 445.02h2.7v13.4h-2.7zM423.09 445.02h2.7v13.4h-2.7zM427.11 445.02h2.7v13.4h-2.7zM431.13 445.02h2.7v13.4h-2.7zM435.14 445.02h2.7v13.4h-2.7zM439.16 445.02h2.7v13.4h-2.7zM443.18 445.02h2.7v13.4h-2.7zM447.19 445.02h2.7v13.4h-2.7zM451.21 445.02h2.7v13.4h-2.7zM455.23 445.02h2.7v13.4h-2.7zM459.25 445.02h2.7v13.4h-2.7zM463.26 445.02h2.7v13.4h-2.7zM467.28 445.02h2.7v13.4h-2.7zM471.3 445.02h2.7v13.4h-2.7zM475.31 445.02h2.7v13.4h-2.7zM479.33 445.02h2.7v13.4h-2.7zM483.35 445.02h2.7v13.4h-2.7zM487.36 445.02h2.7v13.4h-2.7zM491.38 445.02h2.7v13.4h-2.7zM495.4 445.02h2.7v13.4h-2.7zM499.42 445.02h2.7v13.4h-2.7zM503.43 445.02h2.7v13.4h-2.7zM507.45 445.02h2.7v13.4h-2.7zM511.47 445.02h2.7v13.4h-2.7zM515.48 445.02h2.7v13.4h-2.7z"/>
<path fill="#3d6a31" d="M266.43 445.02h2.7v13.4h-2.7zM270.45 445.02h2.7v13.4h-2.7zM274.46 445.02h2.7v13.4h-2.7zM278.48 445.02h2.7v13.4h-2.7zM282.5 445.02h2.7v13.4h-2.7zM286.51 445.02h2.7v13.4h-2.7zM290.53 445.02h2.7v13.4h-2.7zM294.55 445.02h2.7v13.4h-2.7zM298.56 445.02h2.7v13.4h-2.7zM302.58 445.02h2.7v13.4h-2.7zM306.6 445.02h2.7v13.4h-2.7zM310.62 445.02h2.7v13.4h-2.7zM314.63 445.02h2.7v13.4h-2.7zM318.65 445.02h2.7v13.4h-2.7zM322.67 445.02h2.7v13.4h-2.7zM326.68 445.02h2.7v13.4h-2.7zM330.7 445.02h2.7v13.4h-2.7zM334.72 445.02h2.7v13.4h-2.7zM338.74 445.02h2.7v13.4h-2.7zM342.75 445.02h2.7v13.4h-2.7zM346.77 445.02h2.7v13.4h-2.7zM350.79 445.02h2.7v13.4h-2.7z"/>
<path fill="#dadada" d="M117.8 460.06h2.7v13.4h-2.7zM121.82 460.06h2.7v13.4h-2.7zM125.83 460.06h2.7v13.4h-2.7zM129.85 460.06h2.7v13.4h-2.7zM133.87 460.06h2.7v13.4h-2.7zM137.88 460.06h2.7v13.4h-2.7zM141.9 460.06h2.7v13.4h-2.7zM145.92 460.06h2.7v13.4h-2.7zM149.94 460.06h2.7v13.4h-2.7zM157.97 460.06h2.7v13.4h-2.7zM161.99 460.06h2.7v13.4h-2.7zM166 460.06h2.7v13.4h-2.7zM170.02 460.06h2.7v13.4h-2.7zM174.04 460.06h2.7v13.4h-2.7zM178.06 460.06h2.7v13.4h-2.7zM182.07 460.06h2.7v13.4h-2.7zM186.09 460.06h2.7v13.4h-2.7zM190.11 460.06h2.7v13.4h-2.7zM194.12 460.06h2.7v13.4h-2.7zM198.14 460.06h2.7v13.4h-2.7zM202.16 460.06h2.7v13.4h-2.7zM206.17 460.06h2.7v13.4h-2.7zM214.21 460.06h2.7v13.4h-2.7zM218.23 460.06h2.7v13.4h-2.7zM222.24 460.06h2.7v13.4h-2.7zM226.26 460.06h2.7v13.4h-2.7zM230.28 460.06h2.7v13.4h-2.7zM234.29 460.06h2.7v13.4h-2.7zM238.31 460.06h2.7v13.4h-2.7zM242.33 460.06h2.7v13.4h-2.7zM246.34 460.06h2.7v13.4h-2.7zM250.36 460.06h2.7v13.4h-2.7zM254.38 460.06h2.7v13.4h-2.7zM258.39 460.06h2.7v13.4h-2.7zM262.41 460.06h2.7v13.4h-2.7zM266.43 460.06h2.7v13.4h-2.7zM270.45 460.06h2.7v13.4h-2.7zM274.46 460.06h2.7v13.4h-2.7zM278.48 460.06h2.7v13.4h-2.7zM282.5 460.06h2.7v13.4h-2.7zM286.51 460.06h2.7v13.4h-2.7zM290.53 460.06h2.7v13.4h-2.7zM294.55 460.06h2.7v13.4h-2.7zM298.56 460.06h2.7v13.4h-2.7zM302.58 460.06h2.7v13.4h-2.7zM306.6 460.06h2.7v13.4h-2.7zM310.62 460.06h2.7v13.4h-2.7zM314.63 460.06h2.7v13.4h-2.7zM318.65 460.06h2.7v13.4h-2.7zM322.67 460.06h2.7v13.4h-2.7zM326.68 460.06h2.7v13.4h-2.7zM330.7 460.06h2.7v13.4h-2.7zM334.72 460.06h2.7v13.4h-2.7zM338.74 460.06h2.7v13.4h-2.7zM342.75 460.06h2.7v13.4h-2.7zM346.77 460.06h2.7v13.4h-2.7zM354.8 460.06h2.7v13.4h-2.7zM358.82 460.06h2.7v13.4h-2.7zM362.84 460.06h2.7v13.4h-2.7zM366.85 460.06h2.7v13.4h-2.7zM370.87 460.06h2.7v13.4h-2.7zM374.89 460.06h2.7v13.4h-2.7zM378.91 460.06h2.7v13.4h-2.7zM382.92 460.06h2.7v13.4h-2.7zM386.94 460.06h2.7v13.4h-2.7zM390.96 460.06h2.7v13.4h-2.7zM394.97 460.06h2.7v13.4h-2.7zM398.99 460.06h2.7v13.4h-2.7zM403.01 460.06h2.7v13.4h-2.7zM407.02 460.06h2.7v13.4h-2.7zM411.04 460.06h2.7v13.4h-2.7zM415.06 460.06h2.7v13.4h-2.7zM419.08 460.06h2.7v13.4h-2.7zM423.09 460.06h2.7v13.4h-2.7zM427.11 460.06h2.7v13.4h-2.7zM431.13 460.06h2.7v13.4h-2.7zM435.14 460.06h2.7v13.4h-2.7zM439.16 460.06h2.7v13.4h-2.7zM491.38 460.06h2.7v13.4h-2.7zM495.4 460.06h2.7v13.4h-2.7zM499.42 460.06h2.7v13.4h-2.7zM503.43 460.06h2.7v13.4h-2.7zM507.45 460.06h2.7v13.4h-2.7zM511.47 460.06h2.7v13.4h-2.7zM515.48 460.06h2.7v13.4h-2.7z"/>
<path fill="#a31c26" d="M153.95 460.06h2.7v13.4h-2.7zM210.19 460.06h2.7v13.4h-2.7zM350.79 460.06h2.7v13.4h-2.7zM443.18 460.06h2.7v13.4h-2.7zM447.19 460.06h2.7v13.4h-2.7zM451.21 460.06h2.7v13.4h-2.7zM455.23 460.06h2.7v13.4h-2.7zM459.25 460.06h2.7v13.4h-2.7zM463.26 460.06h2.7v13.4h-2.7zM467.28 460.06h2.7v13.4h-2.7zM471.3 460.06h2.7v13.4h-2.7zM475.31 460.06h2.7v13.4h-2.7zM479.33 460.06h2.7v13.4h-2.7zM483.35 460.06h2.7v13.4h-2.7zM487.36 460.06h2.7v13.4h-2.7z"/>
<path fill="#f6f6f6" d="M117.8 475.1h2.7v13.4h-2.7zM121.82 475.1h2.7v13.4h-2.7zM125.83 475.1h2.7v13.4h-2.7zM129.85 475.1h2.7v13.4h-2.7zM133.87 475.1h2.7v13.4h-2.7zM137.88 475.1h2.7v13.4h-2.7zM141.9 475.1h2.7v13.4h-2.7zM145.92 475.1h2.7v13.4h-2.7zM149.94 475.1h2.7v13.4h-2.7zM153.95 475.1h2.7v13.4h-2.7zM157.97 475.1h2.7v13.4h-2.7zM161.99 475.1h2.7v13.4h-2.7zM166 475.1h2.7v13.4h-2.7zM170.02 475.1h2.7v13.4h-2.7zM174.04 475.1h2.7v13.4h-2.7zM178.06 475.1h2.7v13.4h-2.7zM182.07 475.1h2.7v13.4h-2.7zM186.09 475.1h2.7v13.4h-2.7zM190.11 475.1h2.7v13.4h-2.7zM194.12 475.1h2.7v13.4h-2.7zM198.14 475.1h2.7v13.4h-2.7zM202.16 475.1h2.7v13.4h-2.7zM206.17 475.1h2.7v13.4h-2.7zM210.19 475.1h2.7v13.4h-2.7zM214.21 475.1h2.7v13.4h-2.7zM218.23 475.1h2.7v13.4h-2.7zM222.24 475.1h2.7v13.4h-2.7zM226.26 475.1h2.7v13.4h-2.7zM230.28 475.1h2.7v13.4h-2.7zM234.29 475.1h2.7v13.4h-2.7zM238.31 475.1h2.7v13.4h-2.7zM242.33 475.1h2.7v13.4h-2.7zM246.34 475.1h2.7v13.4h-2.7zM250.36 475.1h2.7v13.4h-2.7zM254.38 475.1h2.7v13.4h-2.7zM258.39 475.1h2.7v13.4h-2.7zM262.41 475.1h2.7v13.4h-2.7zM266.43 475.1h2.7v13.4h-2.7zM270.45 475.1h2.7v13.4h-2.7zM274.46 475.1h2.7v13.4h-2.7zM278.48 475.1h2.7v13.4h-2.7zM282.5 475.1h2.7v13.4h-2.7zM286.51 475.1h2.7v13.4h-2.7zM290.53 475.1h2.7v13.4h-2.7zM294.55 475.1h2.7v13.4h-2.7zM298.56 475.1h2.7v13.4h-2.7zM302.58 475.1h2.7v13.4h-2.7zM306.6 475.1h2.7v13.4h-2.7zM310.62 475.1h2.7v13.4h-2.7zM314.63 475.1h2.7v13.4h-2.7zM318.65 475.1h2.7v13.4h-2.7zM322.67 475.1h2.7v13.4h-2.7zM326.68 475.1h2.7v13.4h-2.7zM330.7 475.1h2.7v13.4h-2.7zM334.72 475.1h2.7v13.4h-2.7zM338.74 475.1h2.7v13.4h-2.7zM342.75 475.1h2.7v13.4h-2.7zM346.77 475.1h2.7v13.4h-2.7zM350.79 475.1h2.7v13.4h-2.7zM354.8 475.1h2.7v13.4h-2.7zM358.82 475.1h2.7v13.4h-2.7zM362.84 475.1h2.7v13.4h-2.7zM366.85 475.1h2.7v13.4h-2.7zM370.87 475.1h2.7v13.4h-2.7zM374.89 475.1h2.7v13.4h-2.7zM378.91 475.1h2.7v13.4h-2.7zM382.92 475.1h2.7v13.4h-2.7zM386.94 475.1h2.7v13.4h-2.7zM390.96 475.1h2.7v13.4h-2.7zM394.97 475.1h2.7v13.4h-2.7zM398.99 475.1h2.7v13.4h-2.7zM403.01 475.1h2.7v13.4h-2.7zM407.02 475.1h2.7v13.4h-2.7zM411.04 475.1h2.7v13.4h-2.7zM415.06 475.1h2.7v13.4h-2.7zM419.08 475.1h2.7v13.4h-2.7zM423.09 475.1h2.7v13.4h-2.7zM427.11 475.1h2.7v13.4h-2.7zM431.13 475.1h2.7v13.4h-2.7zM435.14 475.1h2.7v13.4h-2.7zM439.16 475.1h2.7v13.4h-2.7zM443.18 475.1h2.7v13.4h-2.7zM447.19 475.1h2.7v13.4h-2.7zM451.21 475.1h2.7v13.4h-2.7zM455.23 475.1h2.7v13.4h-2.7zM459.25 475.1h2.7v13.4h-2.7zM463.26 475.1h2.7v13.4h-2.7zM467.28 475.1h2.7v13.4h-2.7zM471.3 475.1h2.7v13.4h-2.7zM475.31 475.1h2.7v13.4h-2.7zM479.33 475.1h2.7v13.4h-2.7zM483.35 475.1h2.7v13.4h-2.7zM487.36 475.1h2.7v13.4h-2.7zM499.42 475.1h2.7v13.4h-2.7zM503.43 475.1h2.7v13.4h-2.7zM507.45 475.1h2.7v13.4h-2.7zM511.47 475.1h2.7v13.4h-2.7zM515.48 475.1h2.7v13.4h-2.7z"/>
<path fill="#a31c26" d="M491.38 475.1h2.7v13.4h-2.7zM495.4 475.1h2.7v13.4h-2.7z"/>
<path fill="#f6f6f6" d="M117.8 490.14h2.7v13.4h-2.7zM121.82 490.14h2.7v13.4h-2.7zM125.83 490.14h2.7v13.4h-2.7zM129.85 490.14h2.7v13.4h-2.7zM133.87 490.14h2.7v13.4h-2.7zM137.88 490.14h2.7v13.4h-2.7zM141.9 490.14h2.7v13.4h-2.7zM145.92 490.14h2.7v13.4h-2.7zM149.94 490.14h2.7v13.4h-2.7zM153.95 490.14h2.7v13.4h-2.7zM161.99 490.14h2.7v13.4h-2.7zM166 490.14h2.7v13.4h-2.7zM170.02 490.14h2.7v13.4h-2.7zM174.04 490.14h2.7v13.4h-2.7zM178.06 490.14h2.7v13.4h-2.7zM182.07 490.14h2.7v13.4h-2.7zM186.09 490.14h2.7v13.4h-2.7zM190.11 490.14h2.7v13.4h-2.7zM194.12 490.14h2.7v13.4h-2.7zM198.14 490.14h2.7v13.4h-2.7zM202.16 490.14h2.7v13.4h-2.7zM206.17 490.14h2.7v13.4h-2.7zM210.19 490.14h2.7v13.4h-2.7zM214.21 490.14h2.7v13.4h-2.7zM218.23 490.14h2.7v13.4h-2.7zM222.24 490.14h2.7v13.4h-2.7zM226.26 490.14h2.7v13.4h-2.7zM230.28 490.14h2.7v13.4h-2.7zM234.29 490.14h2.7v13.4h-2.7zM238.31 490.14h2.7v13.4h-2.7zM242.33 490.14h2.7v13.4h-2.7zM246.34 490.14h2.7v13.4h-2.7zM250.36 490.14h2.7v13.4h-2.7zM254.38 490.14h2.7v13.4h-2.7zM258.39 490.14h2.7v13.4h-2.7zM262.41 490.14h2.7v13.4h-2.7zM266.43 490.14h2.7v13.4h-2.7zM270.45 490.14h2.7v13.4h-2.7zM274.46 490.14h2.7v13.4h-2.7zM278.48 490.14h2.7v13.4h-2.7zM282.5 490.14h2.7v13.4h-2.7zM286.51 490.14h2.7v13.4h-2.7zM290.53 490.14h2.7v13.4h-2.7zM294.55 490.14h2.7v13.4h-2.7zM298.56 490.14h2.7v13.4h-2.7zM302.58 490.14h2.7v13.4h-2.7zM306.6 490.14h2.7v13.4h-2.7zM310.62 490.14h2.7v13.4h-2.7zM314.63 490.14h2.7v13.4h-2.7zM318.65 490.14h2.7v13.4h-2.7zM322.67 490.14h2.7v13.4h-2.7zM326.68 490.14h2.7v13.4h-2.7zM330.7 490.14h2.7v13.4h-2.7zM334.72 490.14h2.7v13.4h-2.7zM338.74 490.14h2.7v13.4h-2.7zM342.75 490.14h2.7v13.4h-2.7zM346.77 490.14h2.7v13.4h-2.7zM350.79 490.14h2.7v13.4h-2.7zM354.8 490.14h2.7v13.4h-2.7zM358.82 490.14h2.7v13.4h-2.7zM362.84 490.14h2.7v13.4h-2.7zM366.85 490.14h2.7v13.4h-2.7zM370.87 490.14h2.7v13.4h-2.7zM374.89 490.14h2.7v13.4h-2.7zM378.91 490.14h2.7v13.4h-2.7zM382.92 490.14h2.7v13.4h-2.7zM386.94 490.14h2.7v13.4h-2.7zM390.96 490.14h2.7v13.4h-2.7zM394.97 490.14h2.7v13.4h-2.7zM398.99 490.14h2.7v13.4h-2.7zM403.01 490.14h2.7v13.4h-2.7zM407.02 490.14h2.7v13.4h-2.7zM411.04 490.14h2.7v13.4h-2.7zM415.06 490.14h2.7v13.4h-2.7zM419.08 490.14h2.7v13.4h-2.7zM423.09 490.14h2.7v13.4h-2.7zM427.11 490.14h2.7v13.4h-2.7zM431.13 490.14h2.7v13.4h-2.7zM435.14 490.14h2.7v13.4h-2.7zM439.16 490.14h2.7v13.4h-2.7zM443.18 490.14h2.7v13.4h-2.7zM447.19 490.14h2.7v13.4h-2.7zM451.21 490.14h2.7v13.4h-2.7zM455.23 490.14h2.7v13.4h-2.7zM459.25 490.14h2.7v13.4h-2.7zM463.26 490.14h2.7v13.4h-2.7zM467.28 490.14h2.7v13.4h-2.7zM471.3 490.14h2.7v13.4h-2.7zM475.31 490.14h2.7v13.4h-2.7zM479.33 490.14h2.7v13.4h-2.7zM483.35 490.14h2.7v13.4h-2.7zM487.36 490.14h2.7v13.4h-2.7zM491.38 490.14h2.7v13.4h-2.7zM495.4 490.14h2.7v13.4h-2.7z"/>
<path fill="#a31c26" d="M157.97 490.14h2.7v13.4h-2.7zM499.42 490.14h2.7v13.4h-2.7zM503.43 490.14h2.7v13.4h-2.7zM507.45 490.14h2.7v13.4h-2.7zM511.47 490.14h2.7v13.4h-2.7zM515.48 490.14h2.7v13.4h-2.7z"/>
<path fill="#e9e9e9" d="M117.8 505.18h2.7v13.4h-2.7zM125.83 505.18h2.7v13.4h-2.7zM129.85 505.18h2.7v13.4h-2.7zM145.92 505.18h2.7v13.4h-2.7zM149.94 505.18h2.7v13.4h-2.7zM157.97 505.18h2.7v13.4h-2.7zM174.04 505.18h2.7v13.4h-2.7zM178.06 505.18h2.7v13.4h-2.7zM182.07 505.18h2.7v13.4h-2.7zM186.09 505.18h2.7v13.4h-2.7zM190.11 505.18h2.7v13.4h-2.7zM194.12 505.18h2.7v13.4h-2.7zM210.19 505.18h2.7v13.4h-2.7zM214.21 505.18h2.7v13.4h-2.7zM218.23 505.18h2.7v13.4h-2.7zM222.24 505.18h2.7v13.4h-2.7zM230.28 505.18h2.7v13.4h-2.7zM234.29 505.18h2.7v13.4h-2.7zM238.31 505.18h2.7v13.4h-2.7zM246.34 505.18h2.7v13.4h-2.7zM250.36 505.18h2.7v13.4h-2.7zM258.39 505.18h2.7v13.4h-2.7zM262.41 505.18h2.7v13.4h-2.7zM266.43 505.18h2.7v13.4h-2.7zM270.45 505.18h2.7v13.4h-2.7zM274.46 505.18h2.7v13.4h-2.7zM278.48 505.18h2.7v13.4h-2.7zM282.5 505.18h2.7v13.4h-2.7zM286.51 505.18h2.7v13.4h-2.7zM294.55 505.18h2.7v13.4h-2.7zM298.56 505.18h2.7v13.4h-2.7zM302.58 505.18h2.7v13.4h-2.7zM306.6 505.18h2.7v13.4h-2.7zM310.62 505.18h2.7v13.4h-2.7zM314.63 505.18h2.7v13.4h-2.7zM318.65 505.18h2.7v13.4h-2.7zM322.67 505.18h2.7v13.4h-2.7zM326.68 505.18h2.7v13.4h-2.7zM330.7 505.18h2.7v13.4h-2.7zM334.72 505.18h2.7v13.4h-2.7zM338.74 505.18h2.7v13.4h-2.7zM342.75 505.18h2.7v13.4h-2.7zM346.77 505.18h2.7v13.4h-2.7zM350.79 505.18h2.7v13.4h-2.7zM354.8 505.18h2.7v13.4h-2.7zM358.82 505.18h2.7v13.4h-2.7zM362.84 505.18h2.7v13.4h-2.7zM366.85 505.18h2.7v13.4h-2.7zM382.92 505.18h2.7v13.4h-2.7zM390.96 505.18h2.7v13.4h-2.7zM394.97 505.18h2.7v13.4h-2.7zM403.01 505.18h2.7v13.4h-2.7zM407.02 505.18h2.7v13.4h-2.7zM415.06 505.18h2.7v13.4h-2.7zM419.08 505.18h2.7v13.4h-2.7zM427.11 505.18h2.7v13.4h-2.7zM431.13 505.18h2.7v13.4h-2.7zM435.14 505.18h2.7v13.4h-2.7zM439.16 505.18h2.7v13.4h-2.7zM455.23 505.18h2.7v13.4h-2.7zM467.28 505.18h2.7v13.4h-2.7zM475.31 505.18h2.7v13.4h-2.7zM483.35 505.18h2.7v13.4h-2.7zM491.38 505.18h2.7v13.4h-2.7zM495.4 505.18h2.7v13.4h-2.7zM499.42 505.18h2.7v13.4h-2.7zM503.43 505.18h2.7v13.4h-2.7zM507.45 505.18h2.7v13.4h-2.7zM511.47 505.18h2.7v13.4h-2.7zM515.48 505.18h2.7v13.4h-2.7z"/>
<path fill="#858585" d="M121.82 505.18h2.7v13.4h-2.7zM133.87 505.18h2.7v13.4h-2.7zM137.88 505.18h2.7v13.4h-2.7zM141.9 505.18h2.7v13.4h-2.7zM153.95 505.18h2.7v13.4h-2.7zM161.99 505.18h2.7v13.4h-2.7zM166 505.18h2.7v13.4h-2.7zM170.02 505.18h2.7v13.4h-2.7zM198.14 505.18h2.7v13.4h-2.7zM202.16 505.18h2.7v13.4h-2.7zM206.17 505.18h2.7v13.4h-2.7zM226.26 505.18h2.7v13.4h-2.7zM242.33 505.18h2.7v13.4h-2.7zM254.38 505.18h2.7v13.4h-2.7zM290.53 505.18h2.7v13.4h-2.7zM370.87 505.18h2.7v13.4h-2.7zM374.89 505.18h2.7v13.4h-2.7zM378.91 505.18h2.7v13.4h-2.7zM386.94 505.18h2.7v13.4h-2.7zM398.99 505.18h2.7v13.4h-2.7zM411.04 505.18h2.7v13.4h-2.7zM423.09 505.18h2.7v13.4h-2.7zM443.18 505.18h2.7v13.4h-2.7zM447.19 505.18h2.7v13.4h-2.7zM451.21 505.18h2.7v13.4h-2.7zM459.25 505.18h2.7v13.4h-2.7zM463.26 505.18h2.7v13.4h-2.7zM471.3 505.18h2.7v13.4h-2.7zM479.33 505.18h2.7v13.4h-2.7zM487.36 505.18h2.7v13.4h-2.7z"/>
<path fill="#f5f5f5" d="M117.8 520.22h2.7v13.4h-2.7zM121.82 520.22h2.7v13.4h-2.7zM125.83 520.22h2.7v13.4h-2.7zM129.85 520.22h2.7v13.4h-2.7zM133.87 520.22h2.7v13.4h-2.7zM137.88 520.22h2.7v13.4h-2.7zM141.9 520.22h2.7v13.4h-2.7zM145.92 520.22h2.7v13.4h-2.7zM149.94 520.22h2.7v13.4h-2.7zM153.95 520.22h2.7v13.4h-2.7zM157.97 520.22h2.7v13.4h-2.7zM161.99 520.22h2.7v13.4h-2.7zM166 520.22h2.7v13.4h-2.7zM170.02 520.22h2.7v13.4h-2.7zM174.04 520.22h2.7v13.4h-2.7zM178.06 520.22h2.7v13.4h-2.7zM182.07 520.22h2.7v13.4h-2.7zM186.09 520.22h2.7v13.4h-2.7zM190.11 520.22h2.7v13.4h-2.7zM194.12 520.22h2.7v13.4h-2.7zM198.14 520.22h2.7v13.4h-2.7zM202.16 520.22h2.7v13.4h-2.7zM206.17 520.22h2.7v13.4h-2.7zM210.19 520.22h2.7v13.4h-2.7zM214.21 520.22h2.7v13.4h-2.7zM218.23 520.22h2.7v13.4h-2.7zM222.24 520.22h2.7v13.4h-2.7zM226.26 520.22h2.7v13.4h-2.7zM230.28 520.22h2.7v13.4h-2.7zM234.29 520.22h2.7v13.4h-2.7zM238.31 520.22h2.7v13.4h-2.7zM242.33 520.22h2.7v13.4h-2.7zM250.36 520.22h2.7v13.4h-2.7zM254.38 520.22h2.7v13.4h-2.7zM258.39 520.22h2.7v13.4h-2.7zM262.41 520.22h2.7v13.4h-2.7zM286.51 520.22h2.7v13.4h-2.7zM290.53 520.22h2.7v13.4h-2.7zM326.68 520.22h2.7v13.4h-2.7zM334.72 520.22h2.7v13.4h-2.7zM350.79 520.22h2.7v13.4h-2.7zM354.8 520.22h2.7v13.4h-2.7zM362.84 520.22h2.7v13.4h-2.7zM370.87 520.22h2.7v13.4h-2.7zM374.89 520.22h2.7v13.4h-2.7zM378.91 520.22h2.7v13.4h-2.7zM382.92 520.22h2.7v13.4h-2.7zM386.94 520.22h2.7v13.4h-2.7zM390.96 520.22h2.7v13.4h-2.7zM394.97 520.22h2.7v13.4h-2.7zM398.99 520.22h2.7v13.4h-2.7zM403.01 520.22h2.7v13.4h-2.7zM407.02 520.22h2.7v13.4h-2.7zM411.04 520.22h2.7v13.4h-2.7zM415.06 520.22h2.7v13.4h-2.7zM419.08 520.22h2.7v13.4h-2.7zM423.09 520.22h2.7v13.4h-2.7zM427.11 520.22h2.7v13.4h-2.7zM431.13 520.22h2.7v13.4h-2.7zM439.16 520.22h2.7v13.4h-2.7zM443.18 520.22h2.7v13.4h-2.7zM447.19 520.22h2.7v13.4h-2.7zM451.21 520.22h2.7v13.4h-2.7zM455.23 520.22h2.7v13.4h-2.7zM459.25 520.22h2.7v13.4h-2.7zM463.26 520.22h2.7v13.4h-2.7zM467.28 520.22h2.7v13.4h-2.7zM471.3 520.22h2.7v13.4h-2.7zM475.31 520.22h2.7v13.4h-2.7zM479.33 520.22h2.7v13.4h-2.7zM483.35 520.22h2.7v13.4h-2.7zM487.36 520.22h2.7v13.4h-2.7zM491.38 520.22h2.7v13.4h-2.7zM495.4 520.22h2.7v13.4h-2.7zM499.42 520.22h2.7v13.4h-2.7zM503.43 520.22h2.7v13.4h-2.7zM507.45 520.22h2.7v13.4h-2.7zM515.48 520.22h2.7v13.4h-2.7z"/>
<path fill="#858585" d="M246.34 520.22h2.7v13.4h-2.7zM266.43 520.22h2.7v13.4h-2.7zM270.45 520.22h2.7v13.4h-2.7zM274.46 520.22h2.7v13.4h-2.7zM278.48 520.22h2.7v13.4h-2.7zM282.5 520.22h2.7v13.4h-2.7zM294.55 520.22h2.7v13.4h-2.7zM298.56 520.22h2.7v13.4h-2.7zM302.58 520.22h2.7v13.4h-2.7zM306.6 520.22h2.7v13.4h-2.7zM310.62 520.22h2.7v13.4h-2.7zM314.63 520.22h2.7v13.4h-2.7zM318.65 520.22h2.7v13.4h-2.7zM322.67 520.22h2.7v13.4h-2.7zM330.7 520.22h2.7v13.4h-2.7zM338.74 520.22h2.7v13.4h-2.7zM342.75 520.22h2.7v13.4h-2.7zM346.77 520.22h2.7v13.4h-2.7zM358.82 520.22h2.7v13.4h-2.7zM366.85 520.22h2.7v13.4h-2.7zM435.14 520.22h2.7v13.4h-2.7zM511.47 520.22h2.7v13.4h-2.7z"/>
<path fill="#a31c26" d="M121.82 535.26h2.7v13.4h-2.7zM125.83 535.26h2.7v13.4h-2.7zM133.87 535.26h2.7v13.4h-2.7zM141.9 535.26h2.7v13.4h-2.7zM145.92 535.26h2.7v13.4h-2.7zM149.94 535.26h2.7v13.4h-2.7zM153.95 535.26h2.7v13.4h-2.7zM166 535.26h2.7v13.4h-2.7zM182.07 535.26h2.7v13.4h-2.7zM186.09 535.26h2.7v13.4h-2.7zM202.16 535.26h2.7v13.4h-2.7zM210.19 535.26h2.7v13.4h-2.7zM214.21 535.26h2.7v13.4h-2.7zM222.24 535.26h2.7v13.4h-2.7zM226.26 535.26h2.7v13.4h-2.7zM250.36 535.26h2.7v13.4h-2.7zM254.38 535.26h2.7v13.4h-2.7zM258.39 535.26h2.7v13.4h-2.7zM266.43 535.26h2.7v13.4h-2.7zM274.46 535.26h2.7v13.4h-2.7zM282.5 535.26h2.7v13.4h-2.7zM286.51 535.26h2.7v13.4h-2.7zM290.53 535.26h2.7v13.4h-2.7zM294.55 535.26h2.7v13.4h-2.7zM314.63 535.26h2.7v13.4h-2.7zM318.65 535.26h2.7v13.4h-2.7zM322.67 535.26h2.7v13.4h-2.7zM330.7 535.26h2.7v13.4h-2.7zM338.74 535.26h2.7v13.4h-2.7zM346.77 535.26h2.7v13.4h-2.7zM350.79 535.26h2.7v13.4h-2.7zM354.8 535.26h2.7v13.4h-2.7zM362.84 535.26h2.7v13.4h-2.7zM374.89 535.26h2.7v13.4h-2.7zM378.91 535.26h2.7v13.4h-2.7zM382.92 535.26h2.7v13.4h-2.7zM390.96 535.26h2.7v13.4h-2.7zM398.99 535.26h2.7v13.4h-2.7zM407.02 535.26h2.7v13.4h-2.7zM411.04 535.26h2.7v13.4h-2.7zM415.06 535.26h2.7v13.4h-2.7zM419.08 535.26h2.7v13.4h-2.7zM423.09 535.26h2.7v13.4h-2.7zM427.11 535.26h2.7v13.4h-2.7zM431.13 535.26h2.7v13.4h-2.7zM435.14 535.26h2.7v13.4h-2.7zM439.16 535.26h2.7v13.4h-2.7zM443.18 535.26h2.7v13.4h-2.7zM447.19 535.26h2.7v13.4h-2.7zM451.21 535.26h2.7v13.4h-2.7zM455.23 535.26h2.7v13.4h-2.7zM459.25 535.26h2.7v13.4h-2.7zM463.26 535.26h2.7v13.4h-2.7zM471.3 535.26h2.7v13.4h-2.7zM475.31 535.26h2.7v13.4h-2.7zM479.33 535.26h2.7v13.4h-2.7zM483.35 535.26h2.7v13.4h-2.7zM487.36 535.26h2.7v13.4h-2.7zM491.38 535.26h2.7v13.4h-2.7zM495.4 535.26h2.7v13.4h-2.7zM499.42 535.26h2.7v13.4h-2.7zM511.47 535.26h2.7v13.4h-2.7zM515.48 535.26h2.7v13.4h-2.7z"/>
<path fill="#acc0d4" d="M117.8 535.26h2.7v13.4h-2.7zM129.85 535.26h2.7v13.4h-2.7zM137.88 535.26h2.7v13.4h-2.7zM157.97 535.26h2.7v13.4h-2.7zM161.99 535.26h2.7v13.4h-2.7zM170.02 535.26h2.7v13.4h-2.7zM174.04 535.26h2.7v13.4h-2.7zM190.11 535.26h2.7v13.4h-2.7zM194.12 535.26h2.7v13.4h-2.7zM198.14 535.26h2.7v13.4h-2.7zM206.17 535.26h2.7v13.4h-2.7zM218.23 535.26h2.7v13.4h-2.7zM230.28 535.26h2.7v13.4h-2.7zM234.29 535.26h2.7v13.4h-2.7zM238.31 535.26h2.7v13.4h-2.7zM242.33 535.26h2.7v13.4h-2.7zM246.34 535.26h2.7v13.4h-2.7zM262.41 535.26h2.7v13.4h-2.7zM278.48 535.26h2.7v13.4h-2.7zM298.56 535.26h2.7v13.4h-2.7zM302.58 535.26h2.7v13.4h-2.7zM326.68 535.26h2.7v13.4h-2.7zM334.72 535.26h2.7v13.4h-2.7zM342.75 535.26h2.7v13.4h-2.7zM358.82 535.26h2.7v13.4h-2.7zM366.85 535.26h2.7v13.4h-2.7zM386.94 535.26h2.7v13.4h-2.7zM394.97 535.26h2.7v13.4h-2.7zM403.01 535.26h2.7v13.4h-2.7zM467.28 535.26h2.7v13.4h-2.7z"/>
<rect x="178.36" y="535.56" width="2.1" height="12.8" fill="#ffffff" stroke="#e2e2e2" stroke-width="0.6"/>
<rect x="270.75" y="535.56" width="2.1" height="12.8" fill="#ffffff" stroke="#e2e2e2" stroke-width="0.6"/>
<rect x="306.9" y="535.56" width="2.1" height="12.8" fill="#ffffff" stroke="#e2e2e2" stroke-width="0.6"/>
<rect x="310.92" y="535.56" width="2.1" height="12.8" fill="#ffffff" stroke="#e2e2e2" stroke-width="0.6"/>
<rect x="371.17" y="535.56" width="2.1" height="12.8" fill="#ffffff" stroke="#e2e2e2" stroke-width="0.6"/>
<rect x="503.73" y="535.56" width="2.1" height="12.8" fill="#ffffff" stroke="#e2e2e2" stroke-width="0.6"/>
<rect x="507.75" y="535.56" width="2.1" height="12.8" fill="#ffffff" stroke="#e2e2e2" stroke-width="0.6"/>
<text x="114.6" y="33.9" text-anchor="end" class="rl" style="font-style:italic;stroke:#0a0a0a;stroke-width:0.5px;font-size:10px">SRSF2</text>
<text x="114.6" y="48.94" text-anchor="end" class="rl" style="font-style:italic;stroke:#0a0a0a;stroke-width:0.5px;font-size:10px">U2AF1</text>
<text x="114.6" y="63.98" text-anchor="end" class="rl" style="font-style:italic;stroke:#0a0a0a;stroke-width:0.5px;font-size:10px">SF3B1</text>
<text x="114.6" y="79.02" text-anchor="end" class="rl" style="font-style:italic;stroke:#0a0a0a;stroke-width:0.5px;font-size:10px">ZRSR2</text>
<text x="114.6" y="94.06" text-anchor="end" class="rl" style="font-style:italic;stroke:#0a0a0a;stroke-width:0.5px;font-size:10px">ASXL1</text>
<text x="114.6" y="109.1" text-anchor="end" class="rl" style="font-style:italic;stroke:#0a0a0a;stroke-width:0.5px;font-size:10px">EZH2</text>
<text x="114.6" y="124.14" text-anchor="end" class="rl" style="font-style:italic;stroke:#0a0a0a;stroke-width:0.5px;font-size:10px">BCOR</text>
<text x="114.6" y="139.18" text-anchor="end" class="rl" style="font-style:italic;stroke:#0a0a0a;stroke-width:0.5px;font-size:10px">STAG2</text>
<text x="114.6" y="154.22" text-anchor="end" class="rl" style="font-style:italic;stroke:#0a0a0a;stroke-width:0.5px;font-size:10px">SMC3</text>
<text x="114.6" y="169.26" text-anchor="end" class="rl" style="font-style:italic;stroke:#0a0a0a;stroke-width:0.5px;font-size:10px">SMC1A</text>
<text x="114.6" y="184.3" text-anchor="end" class="rl" style="font-style:italic;stroke:#0a0a0a;stroke-width:0.5px;font-size:10px">RAD21</text>
<text x="114.6" y="199.34" text-anchor="end" class="rl" style="font-style:italic;stroke:#0a0a0a;stroke-width:0.5px;font-size:10px">RUNX1</text>
<text x="114.6" y="214.38" text-anchor="end" class="rl" style="font-style:italic;stroke:#0a0a0a;stroke-width:0.5px;font-size:10px">CEBPA</text>
<text x="114.6" y="229.42" text-anchor="end" class="rl" style="font-style:italic;stroke:#0a0a0a;stroke-width:0.5px;font-size:10px">Other TFs</text>
<text x="114.6" y="244.46" text-anchor="end" class="rl" style="font-style:italic;stroke:#0a0a0a;stroke-width:0.5px;font-size:10px">NRAS</text>
<text x="114.6" y="259.5" text-anchor="end" class="rl" style="font-style:italic;stroke:#0a0a0a;stroke-width:0.5px;font-size:10px">KRAS</text>
<text x="114.6" y="274.54" text-anchor="end" class="rl" style="font-style:italic;stroke:#0a0a0a;stroke-width:0.5px;font-size:10px">PTPN11</text>
<text x="114.6" y="289.58" text-anchor="end" class="rl" style="font-style:italic;stroke:#0a0a0a;stroke-width:0.5px;font-size:10px">NF1</text>
<text x="114.6" y="304.62" text-anchor="end" class="rl" style="font-style:italic;stroke:#0a0a0a;stroke-width:0.5px;font-size:10px">CBL</text>
<text x="114.6" y="319.66" text-anchor="end" class="rl" style="font-style:italic;stroke:#0a0a0a;stroke-width:0.5px;font-size:10px">KIT</text>
<text x="114.6" y="334.7" text-anchor="end" class="rl" style="font-style:italic;stroke:#0a0a0a;stroke-width:0.5px;font-size:10px">FLT3</text>
<text x="114.6" y="349.74" text-anchor="end" class="rl" style="font-style:italic;stroke:#0a0a0a;stroke-width:0.5px;font-size:10px">JAK2</text>
<text x="114.6" y="364.78" text-anchor="end" class="rl" style="font-style:italic;stroke:#0a0a0a;stroke-width:0.5px;font-size:10px">DNMT3A</text>
<text x="114.6" y="379.82" text-anchor="end" class="rl" style="font-style:italic;stroke:#0a0a0a;stroke-width:0.5px;font-size:10px">TET2</text>
<text x="114.6" y="394.86" text-anchor="end" class="rl" style="font-style:italic;stroke:#0a0a0a;stroke-width:0.5px;font-size:10px">IDH1/IDH2</text>
<text x="114.6" y="409.9" text-anchor="end" class="rl" style="font-style:italic;stroke:#0a0a0a;stroke-width:0.5px;font-size:10px">SETBP1</text>
<text x="114.6" y="424.94" text-anchor="end" class="rl" style="font-style:italic;stroke:#0a0a0a;stroke-width:0.5px;font-size:10px">WT1</text>
<text x="114.6" y="439.98" text-anchor="end" class="rl" style="font-style:italic;stroke:#0a0a0a;stroke-width:0.5px;font-size:10px">PHF6</text>
<text x="114.6" y="455.02" text-anchor="end" class="rl" style="font-style:italic;stroke:#0a0a0a;stroke-width:0.5px;font-size:10px">TP53</text>
<text x="114.6" y="470.06" text-anchor="end" class="rl" style="font-style:italic;stroke:#0a0a0a;stroke-width:0.5px;font-size:10px">NPM1</text>
<text x="114.6" y="485.1" text-anchor="end" class="rl" style="stroke:#0a0a0a;stroke-width:0.45px;font-size:10.2px">11q23 rearrangement</text>
<text x="114.6" y="500.14" text-anchor="end" class="rl" style="stroke:#0a0a0a;stroke-width:0.45px;font-size:10.2px">CBF rearrangement</text>
<text x="114.6" y="515.18" text-anchor="end" class="rl" style="stroke:#0a0a0a;stroke-width:0.45px;font-size:10.2px">Normal</text>
<text x="114.6" y="530.22" text-anchor="end" class="rl" style="stroke:#0a0a0a;stroke-width:0.45px;font-size:10.2px">Complex</text>
<text x="114.6" y="545.26" text-anchor="end" class="rl" style="stroke:#0a0a0a;stroke-width:0.45px;font-size:10.2px">Clinical AML Ontogeny</text>
<text transform="translate(16.2 53.16) rotate(-90)" text-anchor="middle" class="ct" style="font-size:9.1px">Spliceosome</text>
<text transform="translate(15.6 105.8) rotate(-90)" text-anchor="middle" class="ct" style="font-size:9.1px">Chromatin</text>
<text transform="translate(25.9 105.8) rotate(-90)" text-anchor="middle" class="ct" style="font-size:9.1px">Modifier</text>
<text transform="translate(16.2 158.44) rotate(-90)" text-anchor="middle" class="ct" style="font-size:9.1px">Cohesin</text>
<text transform="translate(15.6 211.08) rotate(-90)" text-anchor="middle" class="ct" style="font-size:9.1px">Myeloid</text>
<text transform="translate(25.9 211.08) rotate(-90)" text-anchor="middle" class="ct" style="font-size:9.1px">TFs</text>
<text transform="translate(16.2 293.8) rotate(-90)" text-anchor="middle" class="ct" style="font-size:9.1px">Activated Signaling</text>
<text transform="translate(14.6 376.52) rotate(-90)" text-anchor="middle" class="ct" style="font-size:7.6px">DNA</text>
<text transform="translate(23.5 376.52) rotate(-90)" text-anchor="middle" class="ct" style="font-size:7.6px">Methylation</text>
<text x="20.2" y="10.1" class="hd" style="font-size:12.3px">Genetic subtype:</text>
<rect x="118.7" y="-0.2" width="143.2" height="13.4" rx="6.7" ry="6.7" fill="#2b2d86"/>
<rect x="266.5" y="-0.2" width="84.3" height="13.4" rx="6.7" ry="6.7" fill="#3b6d3a"/>
<rect x="355" y="-0.2" width="163.3" height="13.4" rx="6.7" ry="6.7" fill="#e6aa3a"/>
<text x="186.4" y="10.65" text-anchor="middle" class="pt">Secondary-type</text>
<text x="309.45" y="10.65" text-anchor="middle" class="pt"><tspan style="font-style:italic">TP53</tspan>-mutated</text>
<text x="438.3" y="10.65" text-anchor="middle" class="pt">De Novo/Pan-AML</text>
<rect x="117.3" y="557.8" width="2.6" height="14" fill="#a31c26"/>
<text x="124.4" y="567.7" class="lg">Clinically-defined de novo AML</text>
<rect x="276.0" y="557.8" width="2.6" height="14" fill="#acc0d4"/>
<text x="282.3" y="567.7" class="lg">Clinically-defined s-AML</text>
<rect x="403.0" y="558.2" width="3.2" height="13" fill="#ffffff" stroke="#808080" stroke-width="0.9"/>
<text x="409.8" y="567.7" class="lg">Clinically-defined t-AML</text>
</svg>
</body></html>
